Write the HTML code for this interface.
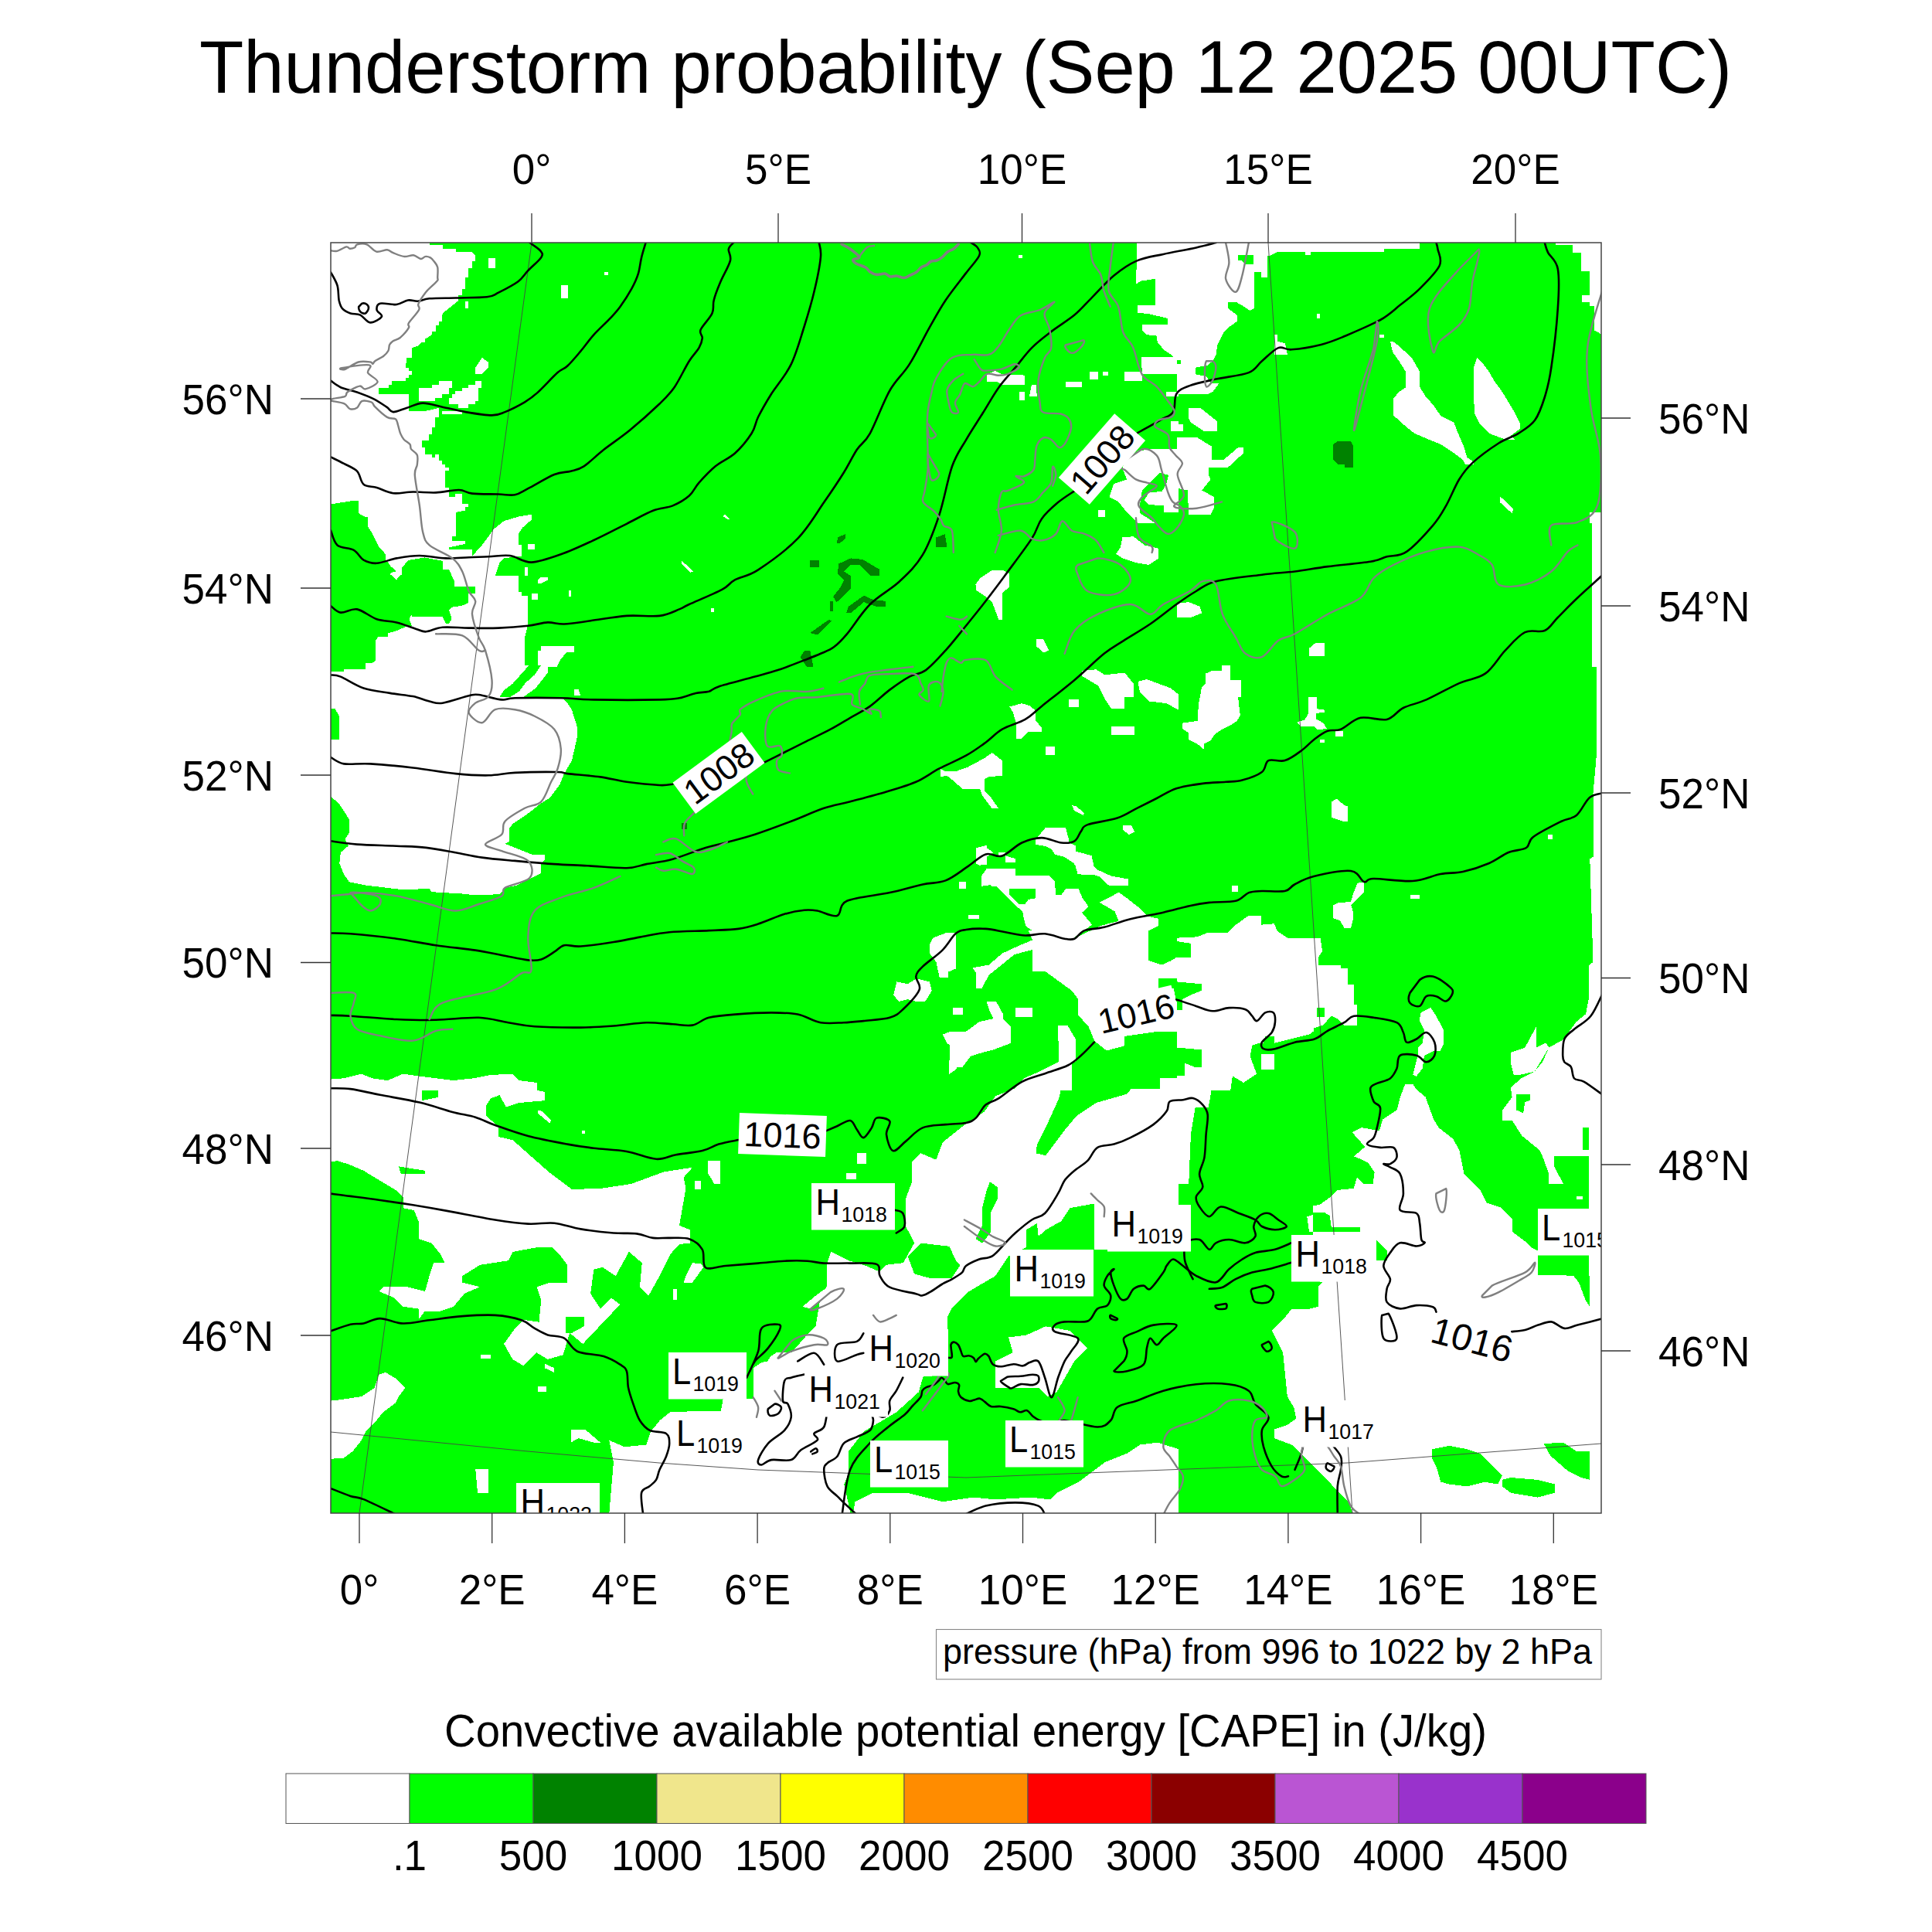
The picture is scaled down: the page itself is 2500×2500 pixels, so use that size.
<!DOCTYPE html><html><head><meta charset="utf-8"><style>html,body{margin:0;padding:0;background:#fff;width:2500px;height:2500px;overflow:hidden}svg{display:block}</style></head><body><svg width="2500" height="2500" viewBox="0 0 2500 2500" font-family="'Liberation Sans', sans-serif">
<rect x="0" y="0" width="2500" height="2500" fill="#fff"/>
<defs><clipPath id="mc"><rect x="428" y="314" width="1644" height="1644"/></clipPath></defs>
<g clip-path="url(#mc)"><g shape-rendering="crispEdges">
<rect x="428" y="314" width="1644" height="1644" fill="#00ff00"/>
<polygon points="426.6,312.6 555.6,312.6 555.6,316.8 572.7,316.8 572.7,321.9 589.7,321.9 589.7,325.9 611.0,325.9 614.6,330.5 614.6,338.1 611.0,338.1 611.0,346.6 606.1,346.6 606.1,359.4 601.6,359.4 601.6,373.6 597.6,373.6 597.6,382.1 593.1,382.1 593.1,389.2 584.0,396.3 575.5,403.3 572.1,407.0 572.1,416.1 567.6,416.1 567.6,421.2 563.6,421.2 563.6,428.9 559.0,428.9 559.0,433.1 550.0,438.8 550.0,443.1 544.9,443.1 541.5,447.3 532.9,450.1 532.9,462.9 525.9,462.9 525.9,470.0 524.7,470.0 524.7,476.2 528.7,476.2 528.7,480.2 532.9,480.2 532.9,485.0 528.7,485.0 528.7,489.0 524.7,489.0 524.7,493.3 507.4,493.3 507.4,497.8 502.9,497.8 502.9,502.1 489.8,502.1 489.8,509.7 528.7,509.7 528.7,532.1 550.0,532.1 567.6,527.9 567.6,540.3 563.0,540.3 563.0,552.8 558.8,552.8 558.8,561.6 554.8,561.6 554.8,569.8 546.0,569.8 546.0,578.6 550.0,578.6 550.0,588.0 558.8,588.0 558.8,592.3 563.0,592.3 563.0,588.0 567.6,588.0 567.6,595.7 571.8,595.7 571.8,601.0 575.8,601.0 575.8,605.0 580.6,605.0 580.6,609.3 575.8,609.3 575.8,631.1 581.2,631.1 581.2,643.0 588.8,643.0 588.8,638.8 597.6,638.8 597.6,651.5 605.8,651.5 605.8,655.8 601.9,655.8 601.9,660.6 589.7,662.9 589.7,694.1 585.4,694.1 585.4,699.8 601.6,699.8 601.6,704.0 581.2,708.3 581.2,711.1 611.0,711.1 611.0,719.6 623.7,705.4 632.2,694.1 637.9,685.6 652.1,674.2 670.5,668.6 687.5,665.7 687.5,672.8 676.2,682.7 670.5,691.2 670.5,705.4 674.8,705.4 674.8,719.6 652.1,722.4 646.4,728.1 640.7,745.1 670.5,745.1 670.5,766.4 674.8,766.4 674.8,770.7 683.3,770.7 683.3,807.5 679.0,824.6 679.0,863.4 426.6,863.4" fill="#ffffff"/>
<polygon points="427.1,652.6 456.1,648.0 464.2,648.0 464.2,664.3 472.4,668.9 476.0,668.9 476.0,681.6 481.4,689.7 490.5,707.8 498.7,716.9 498.7,725.9 502.3,727.8 505.9,733.2 510.4,736.8 512.2,739.5 507.7,740.4 504.1,743.2 507.7,745.0 513.1,750.4 515.9,745.9 520.4,743.2 520.4,734.1 528.5,725.0 549.4,721.4 572.9,725.9 572.9,736.8 581.1,736.8 588.3,753.1 588.3,758.6 614.6,758.6 614.6,767.6 605.5,767.6 605.5,780.3 597.4,783.9 584.7,785.7 581.1,789.3 584.7,801.1 581.1,806.6 576.6,806.6 572.9,798.4 533.1,798.4 533.1,794.8 529.4,801.1 533.1,810.2 524.9,811.1 512.2,816.5 502.3,819.2 502.3,823.8 489.6,823.8 486.0,829.2 486.0,854.6 481.4,858.2 473.3,858.2 472.4,866.3 451.6,866.3 451.6,861.8 447.0,861.8 442.5,870.9 427.1,870.9" fill="#00ff00"/>
<polygon points="541.7,502.1 558.8,502.1 558.8,498.0 567.6,498.0 567.6,493.3 584.7,493.3 584.7,502.1 581.1,502.1 581.1,509.9 571.8,509.9 571.8,515.0 563.0,515.0 563.0,519.2 541.7,519.2" fill="#ffffff"/>
<polygon points="614.7,493.3 623.0,493.3 623.0,502.1 618.9,502.1 618.9,519.2 614.7,519.2 614.7,523.3 605.9,523.3 605.9,528.0 593.0,528.0 593.0,523.3 581.1,523.3 581.1,515.0 584.7,515.0 584.7,509.9 588.8,509.9 588.8,506.2 597.6,506.2 597.6,502.1 605.9,502.1 605.9,498.0 614.7,498.0" fill="#ffffff"/>
<polygon points="571.8,532.1 597.6,532.1 597.6,535.7 571.8,535.7" fill="#ffffff"/>
<polygon points="631.7,333.9 640.7,333.9 640.7,346.6 631.7,346.6" fill="#ffffff"/>
<polygon points="782.0,351.7 786.8,351.7 786.8,356.0 782.0,356.0" fill="#ffffff"/>
<polygon points="725.8,369.3 734.9,369.3 734.9,385.8 725.8,385.8" fill="#ffffff"/>
<polygon points="601.6,390.0 606.1,390.0 606.1,398.5 601.6,398.5" fill="#ffffff"/>
<polygon points="623.7,462.9 631.7,468.6 631.7,475.7 623.7,484.2 615.2,484.2 615.2,475.7" fill="#ffffff"/>
<polygon points="938.0,665.7 944.2,672.0 941.4,672.0 935.7,668.0" fill="#ffffff"/>
<polygon points="881.8,725.3 897.4,739.5 893.2,740.9 881.8,729.5" fill="#ffffff"/>
<polygon points="735.8,763.6 739.2,763.6 739.2,772.1 735.8,772.1" fill="#ffffff"/>
<polygon points="920.1,787.1 923.8,787.1 923.8,791.9 920.1,791.9" fill="#ffffff"/>
<polygon points="700.3,746.6 708.8,746.6 708.8,750.8 700.3,755.1 696.0,755.1 696.0,750.8" fill="#ffffff"/>
<polygon points="679.0,733.8 683.3,733.8 683.3,745.1 679.0,745.1" fill="#ffffff"/>
<polygon points="687.5,767.8 696.0,767.8 696.0,776.3 687.5,776.3" fill="#ffffff"/>
<polygon points="683.3,704.0 691.8,704.0 691.8,711.1 683.3,711.1" fill="#ffffff"/>
<polygon points="696.0,841.6 700.3,841.6 700.3,835.9 742.8,835.9 742.8,844.4 732.9,844.4 725.8,852.9 720.2,863.4 696.0,863.4" fill="#ffffff"/>
<polygon points="1471.0,312.6 1525.4,312.6 1525.4,467.2 1514.9,458.7 1506.4,453.0 1497.9,443.1 1496.5,434.5 1483.7,433.1 1478.0,427.5 1478.0,420.4 1510.7,420.4 1510.7,411.9 1486.6,406.2 1472.4,404.8 1472.4,394.8 1495.1,394.8 1495.1,360.8 1476.6,363.6 1469.5,367.9 1471.0,339.5" fill="#ffffff"/>
<polygon points="1476.6,461.5 1525.4,461.5 1525.4,484.2 1478.0,484.2" fill="#ffffff"/>
<polygon points="1455.4,481.3 1478.0,481.3 1478.0,492.7 1455.4,492.7" fill="#ffffff"/>
<polygon points="1410.0,481.3 1421.3,481.3 1421.3,491.3 1410.0,491.3" fill="#ffffff"/>
<polygon points="1427.0,481.3 1434.1,481.3 1434.1,485.6 1427.0,485.6" fill="#ffffff"/>
<polygon points="1378.8,494.1 1400.0,494.1 1400.0,501.2 1378.8,501.2" fill="#ffffff"/>
<polygon points="1509.3,506.9 1525.4,506.9 1525.4,512.6 1509.3,512.6" fill="#ffffff"/>
<polygon points="1276.7,484.2 1288.0,479.9 1296.5,484.2 1326.3,485.6 1326.3,498.4 1297.9,498.4 1290.8,494.1 1276.7,494.1" fill="#ffffff"/>
<polygon points="1319.2,506.9 1326.3,506.9 1326.3,518.2 1319.2,518.2" fill="#ffffff"/>
<polygon points="1334.8,498.4 1340.5,498.4 1341.9,512.6 1332.0,512.6" fill="#ffffff"/>
<polygon points="1317.8,329.6 1322.6,329.6 1322.6,333.9 1317.8,333.9" fill="#ffffff"/>
<polygon points="1514.9,545.2 1525.4,545.2 1525.4,557.9 1514.9,557.9" fill="#ffffff"/>
<polygon points="1455.4,597.6 1472.4,583.5 1495.1,580.6 1525.4,580.6 1525.4,662.9 1506.4,662.9 1506.4,654.4 1486.6,653.0 1480.9,647.3 1486.6,637.4 1503.6,635.9 1509.3,626.0 1512.1,614.7 1500.7,611.8 1486.6,626.0 1478.0,634.5 1475.2,651.5 1475.2,664.3 1486.6,671.4 1495.1,677.1 1472.4,677.1 1458.2,662.9 1446.8,648.7 1435.5,643.0 1441.2,626.0 1458.2,620.3 1452.5,606.2" fill="#ffffff"/>
<polygon points="1452.5,695.5 1466.7,694.1 1480.9,705.4 1499.3,709.7 1499.3,722.4 1486.6,731.0 1469.5,728.1 1452.5,722.4 1444.0,716.8 1449.7,708.3" fill="#ffffff"/>
<polygon points="1262.5,756.5 1268.2,748.0 1283.8,738.0 1297.9,738.0 1306.4,742.3 1306.4,759.3 1296.5,767.8 1296.5,801.9 1292.3,801.9 1283.8,779.2 1273.8,770.7 1262.5,763.6" fill="#ffffff"/>
<polygon points="1340.5,827.4 1350.4,827.4 1357.5,841.6 1350.4,844.4 1340.5,835.9" fill="#ffffff"/>
<polygon points="1421.3,660.0 1429.8,660.0 1429.8,668.6 1421.3,668.6" fill="#ffffff"/>
<polygon points="1085.2,729.5 1100.8,722.4 1116.4,723.9 1137.7,736.6 1137.7,745.1 1126.3,745.1 1112.1,731.0 1100.8,731.0 1092.3,739.5 1100.8,745.1 1100.8,762.2 1089.5,773.5 1082.4,779.2 1078.1,772.1 1088.0,759.3 1092.3,750.8 1083.8,742.3" fill="#008200"/>
<polygon points="1098.0,784.8 1117.8,770.7 1130.6,776.3 1146.2,777.8 1146.2,784.8 1133.4,784.8 1117.8,779.2 1100.8,793.4 1095.1,793.4" fill="#008200"/>
<polygon points="1048.3,818.9 1072.4,801.9 1076.7,803.3 1058.3,821.7" fill="#008200"/>
<polygon points="1041.2,841.6 1048.3,841.6 1052.6,863.4 1044.1,863.4 1035.6,850.1" fill="#008200"/>
<polygon points="1211.4,695.5 1222.8,691.2 1225.6,708.3 1211.4,708.3" fill="#008200"/>
<polygon points="1048.3,725.3 1059.7,725.3 1059.7,733.8 1048.3,733.8" fill="#008200"/>
<polygon points="1073.9,777.8 1078.1,777.8 1078.1,790.5 1073.9,790.5" fill="#008200"/>
<polygon points="1083.8,695.5 1093.7,691.2 1093.7,696.9 1086.6,703.2 1083.2,703.2" fill="#008200"/>
<polygon points="1522.6,312.6 1837.4,312.6 1837.4,321.9 1790.6,321.9 1790.6,325.9 1695.6,325.9 1695.6,329.6 1688.5,329.6 1688.5,325.9 1653.1,325.9 1643.1,331.0 1640.3,331.0 1640.3,359.4 1631.8,359.4 1631.8,352.3 1623.3,352.3 1623.3,399.1 1617.6,401.9 1609.1,396.3 1599.2,390.6 1589.2,390.6 1589.2,399.1 1600.6,407.6 1600.6,416.1 1592.1,421.8 1583.6,430.3 1575.1,447.3 1573.6,458.7 1569.4,467.2 1562.3,472.8 1546.7,475.7 1546.7,484.2 1560.9,487.0 1566.5,495.5 1577.9,495.5 1569.4,506.9 1563.7,509.7 1522.6,509.7" fill="#ffffff"/>
<polygon points="1602.0,329.6 1621.9,329.6 1621.9,342.4 1611.9,342.4 1606.3,336.7 1602.0,336.7" fill="#00ff00"/>
<polygon points="1522.6,465.7 1528.3,465.7 1528.3,471.4 1522.6,471.4" fill="#00ff00"/>
<polygon points="1648.8,433.1 1653.1,433.1 1653.1,441.6 1663.0,444.5 1665.8,458.7 1648.8,458.7" fill="#ffffff"/>
<polygon points="1538.2,528.2 1553.8,528.2 1575.1,545.2 1575.1,557.9 1558.0,557.9 1541.0,546.6 1538.2,540.9" fill="#ffffff"/>
<polygon points="1522.6,549.4 1531.1,549.4 1531.1,557.9 1522.6,557.9" fill="#ffffff"/>
<polygon points="1522.6,566.4 1549.5,566.4 1568.0,577.8 1568.0,594.8 1583.6,594.8 1602.0,579.2 1609.1,579.2 1609.1,586.3 1589.2,604.7 1563.7,604.7 1563.7,614.7 1566.5,620.3 1555.2,634.5 1570.8,643.0 1570.8,657.2 1566.5,665.7 1538.2,665.7 1536.8,634.5 1522.6,631.7" fill="#ffffff"/>
<polygon points="1799.1,441.6 1804.8,443.1 1819.0,455.8 1827.5,464.3 1837.4,481.3 1837.4,501.2 1844.5,512.6 1854.4,523.9 1864.4,538.1 1881.4,546.6 1885.6,557.9 1894.2,577.8 1898.4,592.0 1906.9,597.6 1906.9,600.5 1895.6,600.5 1892.7,594.8 1881.4,586.3 1864.4,575.0 1850.2,569.3 1830.3,560.8 1816.2,549.4 1810.5,543.8 1803.4,538.1 1803.4,515.4 1810.5,506.9 1819.0,501.2 1819.0,481.3 1810.5,467.2 1802.0,455.8" fill="#ffffff"/>
<polygon points="1911.2,462.9 1919.7,471.4 1926.8,481.3 1935.3,495.5 1943.8,506.9 1952.3,521.1 1960.8,535.2 1966.5,546.6 1966.5,555.1 1955.1,563.6 1960.8,569.3 1949.5,569.3 1926.8,560.8 1915.4,549.4 1908.3,535.2 1906.9,512.6 1906.9,498.4 1906.9,475.7" fill="#ffffff"/>
<polygon points="1941.0,643.0 1945.2,645.9 1958.0,658.6 1956.6,664.3 1941.0,650.1" fill="#ffffff"/>
<polygon points="1694.2,838.7 1702.7,831.7 1714.0,831.7 1714.0,848.7 1694.2,848.7" fill="#ffffff"/>
<polygon points="1522.6,780.6 1538.2,779.2 1552.4,784.8 1555.2,793.4 1541.0,799.0 1522.6,799.0" fill="#ffffff"/>
<polygon points="2060.1,677.1 2073.4,677.1 2073.4,863.4 2060.1,863.4" fill="#ffffff"/>
<polygon points="2013.3,312.6 2073.4,312.6 2073.4,433.1 2062.9,427.5 2062.9,396.3 2057.3,396.3 2057.3,390.6 2047.3,390.6 2047.3,382.1 2057.3,382.1 2057.3,350.9 2045.9,350.9 2045.9,326.8 2034.6,326.8 2034.6,316.8 2013.3,316.8" fill="#ffffff"/>
<polygon points="2057.3,662.9 2073.4,662.9 2073.4,677.1 2057.3,677.1" fill="#ffffff"/>
<polygon points="1704.1,406.2 1708.4,406.2 1708.4,411.9 1704.1,411.9" fill="#ffffff"/>
<polygon points="1785.0,433.1 1790.6,433.1 1790.6,437.4 1785.0,437.4" fill="#ffffff"/>
<polygon points="1731.1,570.7 1748.1,570.7 1750.9,576.4 1750.9,604.7 1739.6,604.7 1739.6,600.5 1731.1,600.5 1725.4,594.8 1725.4,575.0" fill="#008200"/>
<polygon points="426.6,860.6 426.6,1029.3 439.3,1040.7 452.1,1060.6 452.1,1077.6 446.4,1086.1 450.7,1094.6 440.8,1103.1 439.3,1117.3 445.0,1131.5 452.1,1141.4 473.4,1145.6 521.6,1151.3 555.6,1149.9 558.5,1154.2 606.7,1157.0 606.7,1158.4 623.7,1158.4 646.4,1157.0 654.9,1148.5 669.1,1145.6 677.6,1141.4 700.3,1130.0 700.3,1117.3 704.6,1113.0 704.6,1105.9 689.0,1105.9 674.8,1100.3 653.5,1091.8 659.2,1088.9 659.2,1071.9 663.4,1066.2 680.4,1054.9 700.3,1039.3 711.6,1032.2 724.4,1015.2 730.1,1001.0 740.0,984.0 747.1,952.8 747.1,941.4 740.0,918.7 734.3,910.2 725.8,901.7 677.6,901.7 693.2,890.4 708.8,870.5 708.8,860.6" fill="#ffffff"/>
<polygon points="684.7,860.6 700.3,860.6 691.8,873.3 680.4,883.3 671.9,894.6 660.6,901.7 646.4,901.7 652.1,893.2 663.4,884.7 674.8,871.9" fill="#00ff00"/>
<polygon points="426.6,860.6 473.4,860.6 473.4,866.3 445.0,866.3 445.0,869.1 426.6,869.1" fill="#00ff00"/>
<polygon points="426.6,917.3 433.7,917.3 439.3,927.2 439.3,957.0 426.6,957.0" fill="#00ff00"/>
<polygon points="589.7,1410.9 605.3,1410.9 605.3,1415.1 589.7,1415.1" fill="#ffffff"/>
<polygon points="598.2,1426.5 612.4,1426.5 620.9,1432.1 620.9,1436.4 609.5,1432.1 598.2,1429.3" fill="#ffffff"/>
<polygon points="696.0,1436.4 701.7,1437.8 713.1,1449.1 711.6,1453.4 706.0,1449.1 696.0,1440.6" fill="#ffffff"/>
<polygon points="426.6,1396.7 445.0,1395.3 467.7,1389.6 481.9,1395.3 501.7,1398.1 521.6,1389.6 541.5,1392.4 564.1,1395.3 586.8,1398.1 612.4,1395.3 635.1,1391.0 663.4,1389.6 671.9,1398.1 694.6,1400.9 694.6,1411.4 426.6,1411.4" fill="#ffffff"/>
<polygon points="742.8,891.8 748.5,891.8 751.4,900.3 742.8,900.3" fill="#ffffff"/>
<polygon points="881.8,1064.8 888.9,1064.8 888.9,1073.3 881.8,1073.3" fill="#008200"/>
<polygon points="1400.0,867.7 1418.5,866.3 1429.8,873.3 1455.4,870.5 1466.7,884.7 1466.7,901.7 1455.4,901.7 1455.4,917.3 1438.3,917.3 1429.8,904.5 1421.3,887.5 1407.1,879.0 1400.0,874.8" fill="#ffffff"/>
<polygon points="1472.4,881.9 1483.7,879.0 1514.9,890.4 1525.4,898.9 1525.4,918.7 1509.3,910.2 1486.6,907.4 1475.2,896.0" fill="#ffffff"/>
<polygon points="1306.4,914.5 1322.0,910.2 1332.0,913.1 1339.1,918.7 1340.5,932.9 1347.6,941.4 1347.6,947.1 1330.6,947.1 1322.0,955.6 1315.0,955.6 1315.0,935.7 1310.7,921.6" fill="#ffffff"/>
<polygon points="1438.3,940.0 1468.1,940.0 1468.1,951.3 1438.3,951.3" fill="#ffffff"/>
<polygon points="1353.2,965.5 1364.6,965.5 1364.6,976.9 1353.2,976.9" fill="#ffffff"/>
<polygon points="1383.0,904.5 1395.8,904.5 1395.8,914.5 1383.0,914.5" fill="#ffffff"/>
<polygon points="1273.8,981.1 1283.8,974.0 1296.5,984.0 1296.5,1003.8 1279.5,1005.2 1273.8,1008.1 1273.8,1023.7 1282.3,1032.2 1292.3,1046.4 1283.8,1046.4 1271.0,1029.3 1268.2,1020.8 1245.5,1020.8 1232.7,1009.5 1225.6,1003.8 1217.1,1005.2 1217.1,995.3 1222.8,998.1 1237.0,998.1 1252.6,992.5" fill="#ffffff"/>
<polygon points="1387.3,1042.1 1393.0,1043.5 1402.9,1052.0 1401.5,1054.9 1390.1,1049.2" fill="#ffffff"/>
<polygon points="1452.5,1067.6 1463.9,1067.6 1468.1,1076.2 1461.0,1080.4 1452.5,1073.3" fill="#ffffff"/>
<polygon points="1340.5,1086.1 1353.2,1070.5 1378.8,1070.5 1383.0,1086.1 1384.4,1105.9 1407.1,1108.8 1417.1,1123.0 1429.8,1134.3 1459.6,1137.1 1459.6,1145.6 1435.5,1145.6 1421.3,1131.5 1398.6,1131.5 1390.1,1117.3 1373.1,1105.9 1361.8,1097.4 1344.7,1093.2" fill="#ffffff"/>
<polygon points="1262.5,1105.9 1275.2,1096.0 1285.2,1103.1 1276.7,1108.8 1268.2,1120.1 1262.5,1117.3" fill="#ffffff"/>
<polygon points="1207.2,1213.7 1225.6,1206.6 1237.0,1206.6 1237.0,1253.4 1227.0,1257.7 1227.0,1264.8 1215.7,1264.8 1211.4,1244.9 1202.9,1233.6 1202.9,1222.2" fill="#ffffff"/>
<polygon points="1160.4,1270.4 1174.6,1273.3 1185.9,1266.2 1202.9,1270.4 1205.8,1281.8 1197.2,1296.0 1185.9,1296.0 1174.6,1293.1 1163.2,1296.0 1156.1,1287.5" fill="#ffffff"/>
<polygon points="1219.9,1338.5 1231.3,1334.3 1237.0,1349.9 1249.7,1335.7 1263.9,1327.2 1279.5,1332.8 1296.5,1327.2 1307.9,1332.8 1307.9,1349.9 1285.2,1358.4 1273.8,1361.2 1255.4,1366.9 1245.5,1369.7 1237.0,1383.9 1228.4,1389.6 1228.4,1372.6 1237.0,1358.4 1225.6,1349.9" fill="#ffffff"/>
<polygon points="1310.7,1411.4 1324.9,1395.3 1344.7,1386.7 1373.1,1372.6 1387.3,1364.0 1387.3,1411.4" fill="#ffffff"/>
<polygon points="1500.7,1395.3 1525.4,1395.3 1525.4,1411.4 1500.7,1411.4" fill="#ffffff"/>
<polygon points="1368.8,1327.2 1381.6,1327.2 1391.5,1344.2 1391.5,1369.7 1370.3,1369.7" fill="#ffffff"/>
<polygon points="1254.0,1183.9 1266.7,1183.9 1266.7,1188.2 1254.0,1188.2" fill="#ffffff"/>
<polygon points="1241.2,1141.4 1249.7,1141.4 1249.7,1149.9 1241.2,1149.9" fill="#ffffff"/>
<polygon points="1270.4,1132.8 1276.6,1124.3 1313.9,1124.3 1313.9,1132.8 1357.3,1132.8 1365.1,1140.6 1365.9,1157.6 1373.6,1157.6 1379.1,1149.9 1395.4,1149.9 1400.8,1162.3 1408.6,1173.2 1400.0,1180.9 1413.2,1196.5 1385.3,1216.6 1335.6,1215.1 1326.3,1194.9 1323.2,1180.9 1310.7,1171.6 1298.3,1156.1 1281.2,1145.2 1270.4,1146.8" fill="#ffffff"/>
<polygon points="1279.7,1146.8 1289.0,1146.8 1313.9,1171.6 1323.2,1179.4 1326.3,1198.0 1335.6,1204.2 1317.0,1204.2 1304.5,1188.7 1292.1,1170.1 1279.7,1157.6" fill="#00ff00"/>
<polygon points="1306.1,1149.9 1340.2,1149.9 1340.2,1162.3 1330.9,1163.9 1326.3,1170.1 1318.5,1170.1 1306.1,1157.6" fill="#00ff00"/>
<polygon points="1335.6,1215.1 1385.3,1216.6 1424.1,1198.0 1447.4,1191.8 1486.2,1204.2 1486.2,1243.0 1503.3,1248.5 1515.7,1243.0 1530.8,1233.7 1530.8,1266.3 1512.6,1266.3 1498.6,1270.2 1498.6,1278.8 1518.8,1278.8 1521.9,1295.8 1530.8,1295.8 1530.8,1334.7 1498.6,1334.7 1455.2,1340.9 1455.2,1353.3 1431.9,1359.5 1416.3,1347.1 1408.6,1328.4 1394.6,1312.9 1394.6,1292.0 1386.8,1281.9 1352.7,1257.0 1335.6,1257.0" fill="#ffffff"/>
<polygon points="1422.5,1167.7 1439.6,1159.2 1447.4,1154.5 1458.3,1162.3 1472.2,1173.2 1484.7,1185.6 1498.6,1188.7 1498.6,1198.0 1486.2,1204.2 1447.4,1191.8 1442.7,1179.4" fill="#ffffff"/>
<polygon points="1340.2,1086.2 1366.6,1081.6 1391.5,1094.0 1392.3,1101.7 1412.5,1107.2 1416.3,1124.3 1422.5,1126.6 1438.1,1133.6 1459.8,1137.5 1459.8,1145.2 1433.4,1145.2 1422.5,1134.3 1413.2,1131.2 1394.6,1131.2 1391.5,1120.4 1385.3,1111.1 1365.1,1105.6 1360.4,1098.6 1351.1,1094.0 1340.2,1093.2" fill="#ffffff"/>
<polygon points="1258.7,1252.4 1279.7,1248.5 1296.8,1233.7 1317.0,1224.4 1335.6,1216.6 1335.6,1229.1 1326.3,1231.4 1312.3,1235.3 1295.2,1249.3 1279.7,1261.7 1270.4,1278.8 1262.6,1278.8 1262.6,1258.6" fill="#ffffff"/>
<polygon points="1229.2,1334.7 1250.2,1334.7 1267.3,1322.2 1295.2,1316.0 1307.6,1328.4 1307.6,1344.0 1284.3,1358.0 1261.1,1359.5 1245.5,1380.8 1229.2,1380.8" fill="#ffffff"/>
<polygon points="1369.8,1334.7 1385.3,1334.7 1391.5,1353.3 1391.5,1373.5 1377.5,1380.8 1369.8,1380.8" fill="#ffffff"/>
<polygon points="1229.2,1215.1 1237.0,1208.9 1237.0,1250.8 1229.2,1252.4" fill="#ffffff"/>
<polygon points="1233.1,1303.6 1245.5,1303.6 1245.5,1312.9 1233.1,1312.9" fill="#ffffff"/>
<polygon points="1313.9,1303.6 1335.6,1303.6 1335.6,1316.0 1313.9,1316.0" fill="#ffffff"/>
<polygon points="1276.6,1295.8 1289.0,1295.8 1298.3,1312.9 1298.3,1325.3 1289.0,1325.3 1281.2,1309.8" fill="#ffffff"/>
<polygon points="1263.4,1097.1 1276.6,1094.0 1276.6,1118.8 1267.3,1118.8 1263.4,1111.1" fill="#ffffff"/>
<polygon points="1292.1,1103.3 1300.7,1103.3 1300.7,1107.2 1292.1,1107.2" fill="#ffffff"/>
<polygon points="1300.7,1107.2 1313.9,1111.1 1313.9,1115.7 1300.7,1115.7" fill="#ffffff"/>
<polygon points="1253.3,1184.0 1266.5,1184.0 1266.5,1188.7 1253.3,1188.7" fill="#ffffff"/>
<polygon points="1240.9,1140.6 1250.2,1140.6 1250.2,1149.9 1240.9,1149.9" fill="#ffffff"/>
<polygon points="1486.2,1204.2 1498.6,1198.0 1498.6,1188.7 1530.8,1176.3 1530.8,1233.7 1515.7,1243.0 1503.3,1248.5 1486.2,1243.0" fill="#00ff00"/>
<polygon points="1498.6,1266.3 1518.8,1266.3 1518.8,1278.8 1498.6,1278.8" fill="#00ff00"/>
<polygon points="1559.5,871.9 1569.4,867.7 1580.7,867.7 1580.7,860.6 1592.1,860.6 1592.1,880.4 1606.3,880.4 1606.3,901.7 1602.0,901.7 1604.8,925.8 1600.6,932.9 1592.1,938.6 1580.7,944.3 1572.2,949.9 1566.5,958.4 1558.0,962.7 1558.0,969.8 1549.5,962.7 1538.2,957.0 1538.2,948.5 1529.7,942.8 1529.7,935.7 1549.5,932.9 1550.9,911.6 1555.2,888.9 1559.5,884.7" fill="#ffffff"/>
<polygon points="1692.8,901.7 1704.1,901.7 1704.1,917.3 1714.0,918.7 1714.0,921.6 1702.7,923.0 1702.7,930.1 1712.6,935.7 1716.9,942.8 1705.5,944.3 1699.9,940.0 1682.8,940.0 1678.6,934.3 1688.5,931.5 1692.8,923.0" fill="#ffffff"/>
<polygon points="1728.2,945.7 1738.2,945.7 1738.2,952.8 1728.2,952.8" fill="#ffffff"/>
<polygon points="1708.4,957.0 1714.0,957.0 1714.0,961.3 1708.4,961.3" fill="#ffffff"/>
<polygon points="1722.6,1037.9 1729.6,1033.6 1739.6,1042.1 1743.8,1043.5 1743.8,1063.4 1739.6,1063.4 1722.6,1057.7" fill="#ffffff"/>
<polygon points="2003.4,1080.4 2009.0,1080.4 2009.0,1086.1 2003.4,1086.1" fill="#ffffff"/>
<polygon points="1593.5,1145.6 1602.0,1145.6 1602.0,1154.2 1593.5,1154.2" fill="#ffffff"/>
<polygon points="1824.7,1158.4 1837.4,1158.4 1837.4,1162.7 1824.7,1162.7" fill="#ffffff"/>
<polygon points="1756.6,1142.8 1765.1,1141.4 1765.1,1154.2 1756.6,1162.7 1748.1,1171.2 1750.9,1179.7 1750.9,1189.6 1748.1,1201.0 1739.6,1201.0 1733.9,1191.0 1725.4,1188.2 1725.4,1171.2 1731.1,1168.3 1748.1,1166.9 1750.9,1157.0" fill="#ffffff"/>
<polygon points="1522.6,1213.7 1549.5,1212.3 1563.7,1206.6 1589.2,1206.6 1599.2,1196.7 1614.8,1185.4 1631.8,1185.4 1631.8,1196.7 1648.8,1195.3 1653.1,1205.2 1665.8,1213.7 1708.4,1213.7 1711.2,1230.7 1705.5,1239.2 1707.0,1253.4 1731.1,1253.4 1742.4,1261.9 1750.9,1274.7 1750.9,1298.8 1756.6,1315.8 1739.6,1327.2 1722.6,1318.7 1705.5,1330.0 1694.2,1338.5 1648.8,1349.9 1648.8,1341.4 1637.5,1341.4 1634.6,1349.9 1628.9,1349.9 1620.4,1352.7 1617.6,1366.9 1626.1,1389.6 1609.1,1400.9 1594.9,1392.4 1592.1,1411.4 1522.6,1411.4" fill="#ffffff"/>
<polygon points="1522.6,1218.0 1541.0,1220.8 1541.0,1239.2 1522.6,1239.2" fill="#00ff00"/>
<polygon points="1522.6,1270.4 1555.2,1273.3 1555.2,1281.8 1541.0,1287.5 1529.7,1293.1 1529.7,1307.3 1522.6,1307.3" fill="#00ff00"/>
<polygon points="1522.6,1355.5 1555.2,1358.4 1555.2,1381.1 1546.7,1381.1 1532.5,1375.4 1532.5,1392.4 1522.6,1392.4" fill="#00ff00"/>
<polygon points="1705.5,1304.5 1714.0,1304.5 1714.0,1315.8 1705.5,1315.8" fill="#00ff00"/>
<polygon points="1631.8,1364.0 1648.8,1364.0 1648.8,1383.9 1631.8,1383.9" fill="#ffffff"/>
<polygon points="1837.4,1310.2 1853.0,1304.5 1858.7,1315.8 1867.2,1334.3 1868.6,1351.3 1855.9,1355.5 1847.4,1372.6 1838.8,1378.2 1833.2,1389.6 1830.3,1411.4 1816.2,1411.4 1824.7,1392.4 1830.3,1366.9 1836.0,1349.9 1836.0,1330.0" fill="#ffffff"/>
<polygon points="1949.5,1411.4 1958.0,1395.3 1955.1,1381.1 1963.6,1361.2 1975.0,1355.5 1980.7,1344.2 1983.5,1327.2 1992.0,1349.9 2006.2,1349.9 2020.4,1344.2 2031.7,1321.5 2031.7,1310.2 2043.1,1315.8 2051.6,1321.5 2051.6,1411.4" fill="#ffffff"/>
<polygon points="2065.8,860.6 2073.4,860.6 2073.4,1411.4 2051.6,1411.4 2051.6,1321.5 2057.3,1304.5 2057.3,1247.8 2061.5,1244.9 2057.3,1111.6 2061.5,1108.8 2061.5,1026.5 2065.8,978.3" fill="#ffffff"/>
<polygon points="426.6,1408.6 545.7,1408.6 545.7,1424.2 567.0,1419.9 567.0,1408.6 683.3,1408.6 704.6,1412.8 704.6,1424.2 671.9,1427.0 654.9,1432.7 646.4,1417.1 635.1,1421.3 629.4,1429.9 629.4,1444.0 645.0,1458.2 645.0,1471.0 663.4,1475.2 711.6,1517.8 740.0,1539.1 779.7,1537.6 816.6,1532.0 859.1,1516.4 896.0,1510.7 884.7,1523.5 887.5,1537.6 879.0,1585.9 893.2,1591.5 893.2,1608.6 879.0,1610.0 867.6,1622.7 853.5,1651.1 839.3,1676.6 827.9,1665.3 830.8,1634.1 813.8,1619.9 796.7,1651.1 779.7,1639.8 768.4,1642.6 764.1,1673.8 776.9,1693.6 791.1,1679.5 802.4,1688.0 754.2,1739.0 737.2,1724.8 728.7,1753.2 708.8,1758.9 694.6,1750.4 677.6,1767.4 663.4,1758.9 652.1,1739.0 666.3,1719.2 677.6,1707.8 697.5,1710.7 700.3,1682.3 694.6,1665.3 711.6,1659.6 734.3,1659.6 734.3,1636.9 725.8,1625.6 714.5,1614.2 694.6,1614.2 663.4,1619.9 657.8,1631.2 620.9,1636.9 598.2,1651.1 598.2,1659.6 620.9,1665.3 601.0,1673.8 586.8,1690.8 569.8,1696.5 550.0,1696.5 541.5,1707.8 541.5,1693.6 521.6,1690.8 510.3,1679.5 490.4,1671.0 496.1,1665.3 527.3,1665.3 550.0,1671.0 555.6,1651.1 561.3,1634.1 575.5,1634.1 569.8,1622.7 558.5,1608.6 541.5,1602.9 541.5,1580.2 535.8,1566.0 521.6,1563.2 521.6,1549.0 513.1,1540.5 484.7,1523.5 470.5,1514.9 450.7,1506.4 436.5,1502.2 426.6,1503.6" fill="#ffffff"/>
<polygon points="731.5,1703.6 755.6,1703.6 755.6,1716.3 740.0,1724.8 731.5,1724.8" fill="#00ff00"/>
<polygon points="515.9,1509.3 550.0,1514.9 550.0,1519.2 518.8,1519.2" fill="#00ff00"/>
<polygon points="426.6,1812.8 439.3,1811.4 467.7,1807.1 484.7,1795.8 490.4,1778.7 498.9,1775.9 513.1,1784.4 524.4,1795.8 515.9,1807.1 511.7,1815.6 496.1,1827.0 484.7,1841.1 473.4,1852.5 467.7,1863.8 456.4,1878.0 445.0,1886.5 426.6,1887.9" fill="#ffffff"/>
<polygon points="788.2,1959.4 793.9,1892.2 788.2,1863.8 808.1,1872.3 836.4,1869.5 842.1,1852.5 853.5,1838.3 867.6,1827.0 932.9,1825.5 935.7,1809.9 977.4,1809.9 977.4,1959.4" fill="#ffffff"/>
<polygon points="966.9,1758.9 977.4,1758.9 977.4,1798.6 966.9,1798.6" fill="#00ff00"/>
<polygon points="870.5,1668.1 876.2,1668.1 876.2,1682.3 870.5,1682.3" fill="#ffffff"/>
<polygon points="896.0,1634.1 907.4,1635.5 910.2,1639.8 896.0,1659.6 884.7,1659.6 887.5,1651.1" fill="#ffffff"/>
<polygon points="915.9,1502.2 931.5,1502.2 931.5,1532.0 924.4,1532.0 915.9,1517.8" fill="#ffffff"/>
<polygon points="898.8,1527.7 907.4,1527.7 907.4,1539.1 898.8,1539.1" fill="#ffffff"/>
<polygon points="738.6,1849.6 757.0,1849.6 776.9,1866.7 768.4,1866.7 748.5,1861.0 738.6,1866.7" fill="#ffffff"/>
<polygon points="615.2,1900.7 632.2,1900.7 632.2,1931.9 618.0,1931.9" fill="#ffffff"/>
<polygon points="622.3,1753.2 635.1,1753.2 635.1,1757.5 622.3,1757.5" fill="#ffffff"/>
<polygon points="704.6,1764.6 717.3,1770.2 717.3,1775.9 704.6,1770.2" fill="#ffffff"/>
<polygon points="696.0,1794.3 707.4,1794.3 707.4,1801.4 696.0,1801.4" fill="#ffffff"/>
<polygon points="752.8,1462.5 757.0,1462.5 757.0,1466.7 752.8,1466.7" fill="#ffffff"/>
<polygon points="1312.1,1408.6 1373.1,1408.6 1370.3,1421.3 1356.1,1452.5 1341.9,1480.9 1340.5,1492.3 1353.2,1495.1 1378.8,1461.1 1393.0,1444.0 1418.5,1427.0 1458.2,1415.7 1463.9,1408.6 1525.4,1408.6 1525.4,1617.1 1415.6,1617.1 1415.6,1557.5 1384.4,1563.2 1373.1,1580.2 1353.2,1591.5 1327.7,1614.2 1305.0,1625.6 1288.0,1651.1 1254.0,1671.0 1231.3,1693.6 1225.6,1705.0 1225.6,1778.7 1194.4,1781.6 1188.7,1801.4 1160.4,1827.0 1117.8,1852.5 1098.0,1878.0 1098.0,1906.4 1092.3,1920.6 1100.8,1959.4 974.6,1959.4 974.6,1770.2 1004.4,1750.4 1024.2,1750.4 1044.1,1727.7 1055.4,1716.3 1061.1,1682.3 1069.6,1665.3 1069.6,1636.9 1075.3,1619.9 1098.0,1631.2 1117.8,1636.9 1137.7,1645.4 1146.2,1636.9 1168.9,1634.1 1183.1,1608.6 1171.7,1585.9 1171.7,1551.8 1180.2,1529.1 1180.2,1503.6 1191.6,1492.3 1211.4,1500.8 1219.9,1478.1 1248.3,1455.4 1273.8,1438.4 1288.0,1418.5" fill="#ffffff"/>
<polygon points="1174.6,1625.6 1191.6,1608.6 1228.4,1612.8 1237.0,1631.2 1242.6,1636.9 1231.3,1653.9 1202.9,1653.9 1183.1,1648.3" fill="#00ff00"/>
<polygon points="1280.9,1529.1 1290.8,1536.2 1290.8,1551.8 1282.3,1568.8 1282.3,1594.4 1271.0,1608.6 1262.5,1602.9 1271.0,1585.9 1271.0,1563.2 1276.7,1540.5" fill="#00ff00"/>
<polygon points="1327.7,1591.5 1341.9,1583.0 1344.7,1608.6 1327.7,1614.2" fill="#00ff00"/>
<polygon points="974.6,1716.3 993.0,1713.5 1010.0,1716.3 1010.0,1736.2 993.0,1761.7 974.6,1764.6" fill="#00ff00"/>
<polygon points="1086.6,1653.9 1100.8,1653.9 1089.5,1665.3 1061.1,1682.3 1049.7,1693.6 1038.4,1690.8 1055.4,1676.6" fill="#ffffff"/>
<polygon points="1305.0,1730.5 1327.7,1727.7 1353.2,1716.3 1384.4,1722.0 1407.1,1744.7 1390.1,1761.7 1367.4,1801.4 1356.1,1807.1 1344.7,1795.8 1288.0,1795.8 1288.0,1761.7 1310.7,1750.4" fill="#ffffff"/>
<polygon points="1103.6,1959.4 1106.5,1943.3 1129.2,1931.9 1174.6,1931.9 1219.9,1943.3 1259.6,1937.6 1288.0,1940.4 1333.4,1937.6 1358.9,1940.4 1367.4,1931.9 1395.8,1917.7 1429.8,1892.2 1458.2,1880.8 1475.2,1869.5 1497.9,1866.7 1525.4,1875.2 1525.4,1959.4" fill="#ffffff"/>
<polygon points="1109.3,1492.3 1120.7,1492.3 1120.7,1506.4 1109.3,1506.4" fill="#ffffff"/>
<polygon points="1095.1,1517.8 1107.9,1517.8 1107.9,1526.3 1095.1,1526.3" fill="#ffffff"/>
<polygon points="1816.2,1408.6 2073.4,1408.6 2073.4,1959.4 1750.9,1959.4 1745.2,1943.3 1722.6,1920.6 1694.2,1892.2 1671.5,1869.5 1648.8,1861.0 1648.8,1849.6 1665.8,1844.0 1677.2,1835.5 1674.3,1821.3 1665.8,1807.1 1663.0,1778.7 1660.1,1750.4 1646.0,1722.0 1660.1,1707.8 1671.5,1693.6 1694.2,1693.6 1705.5,1690.8 1705.5,1665.3 1711.2,1659.6 1694.2,1653.9 1671.5,1653.9 1671.5,1636.9 1694.2,1636.9 1699.9,1625.6 1694.2,1608.6 1756.6,1605.7 1759.4,1594.4 1694.2,1594.4 1691.3,1574.5 1722.6,1563.2 1722.6,1543.3 1753.8,1546.1 1756.6,1534.8 1776.4,1532.0 1779.3,1517.8 1773.6,1503.6 1759.4,1483.7 1750.9,1463.9 1773.6,1461.1 1790.6,1449.7 1807.6,1427.0" fill="#ffffff"/>
<polygon points="1833.2,1408.6 1958.0,1408.6 1952.3,1421.3 1946.6,1441.2 1960.8,1452.5 1977.8,1469.6 1994.8,1492.3 2009.0,1497.9 2057.3,1495.1 2060.1,1564.6 1989.2,1564.6 1989.2,1625.6 1972.2,1608.6 1955.1,1591.5 1941.0,1571.7 1926.8,1557.5 1912.6,1534.8 1898.4,1514.9 1884.2,1495.1 1870.0,1475.2 1855.9,1458.2 1844.5,1438.4" fill="#00ff00"/>
<polygon points="2006.2,1497.9 2023.2,1497.9 2028.9,1534.8 2017.5,1534.8" fill="#ffffff"/>
<polygon points="1994.8,1625.6 2057.3,1625.6 2057.3,1690.8 2051.6,1682.3 2043.1,1659.6 2031.7,1645.4 2017.5,1634.1" fill="#00ff00"/>
<polygon points="1962.2,1415.7 1979.2,1415.7 1979.2,1427.0 1972.2,1441.2 1963.6,1441.2" fill="#00ff00"/>
<polygon points="2048.7,1459.6 2055.8,1459.6 2055.8,1489.4 2048.7,1489.4" fill="#00ff00"/>
<polygon points="1853.0,1875.2 1875.7,1870.9 1898.4,1875.2 1915.4,1880.8 1932.4,1897.9 1943.8,1909.2 1938.1,1920.6 1921.1,1917.7 1898.4,1923.4 1875.7,1920.6 1864.4,1917.7 1858.7,1897.9 1853.0,1886.5" fill="#00ff00"/>
<polygon points="1943.8,1914.9 1955.1,1912.0 1989.2,1914.9 2011.9,1920.6 2011.9,1931.9 1989.2,1937.6 1955.1,1931.9 1943.8,1923.4" fill="#00ff00"/>
<polygon points="1997.7,1868.1 2023.2,1866.7 2040.2,1878.0 2057.3,1878.0 2057.3,1914.9 2045.9,1912.0 2028.9,1903.5 2006.2,1883.7" fill="#00ff00"/>
<polygon points="1780.7,1605.7 1793.5,1619.9 1787.8,1631.2 1780.7,1631.2" fill="#00ff00"/>
<polygon points="1522.6,1408.6 1568.0,1408.6 1563.7,1432.7 1546.7,1432.7 1541.0,1466.7 1538.2,1532.0 1522.6,1532.0" fill="#ffffff"/>
<polygon points="1700.0,1250.0 2100.0,1250.0 2100.0,1650.0 1700.0,1650.0" fill="#00ff00"/>
<polygon points="1699.0,1249.0 1735.2,1249.0 1735.2,1253.1 1743.5,1253.1 1743.5,1273.8 1751.8,1273.8 1751.8,1299.7 1755.9,1299.7 1755.9,1326.6 1739.3,1326.6 1731.1,1318.3 1722.8,1314.2 1712.4,1326.6 1699.0,1330.7" fill="#ffffff"/>
<polygon points="1704.1,1303.8 1713.5,1303.8 1713.5,1316.3 1704.1,1316.3" fill="#00ff00"/>
<polygon points="2056.1,1249.0 2101.0,1249.0 2101.0,1651.0 2056.1,1651.0" fill="#ffffff"/>
<polygon points="2056.1,1291.4 2052.0,1312.1 2039.5,1322.5 2023.0,1345.2 2004.3,1355.6 1996.1,1374.2 1985.7,1386.6 1969.2,1394.9 1954.7,1407.3 1956.7,1419.8 1944.3,1436.3 1944.3,1449.8 1956.7,1449.8 1969.2,1469.5 1991.9,1488.1 1996.1,1496.4 2004.3,1519.2 2004.3,1531.6 2023.0,1531.6 2010.6,1508.8 2010.6,1496.4 2056.1,1496.4" fill="#ffffff"/>
<polygon points="1961.9,1415.6 1979.5,1415.6 1979.5,1423.9 1973.3,1426.0 1971.2,1440.5 1961.9,1436.3" fill="#00ff00"/>
<polygon points="2047.8,1459.1 2056.1,1459.1 2056.1,1488.1 2047.8,1488.1" fill="#00ff00"/>
<polygon points="1954.7,1361.8 1973.3,1355.6 1987.8,1328.7 1987.8,1355.6 2000.2,1349.4 2004.3,1355.6 1985.7,1386.6 1967.1,1390.8 1958.8,1390.8 1954.7,1374.2" fill="#ffffff"/>
<polygon points="1699.0,1560.6 1708.3,1558.5 1722.8,1548.1 1731.1,1539.9 1751.8,1537.8 1755.9,1523.3 1764.2,1531.6 1776.6,1531.6 1778.7,1517.1 1770.4,1504.7 1762.1,1500.5 1751.8,1496.4 1766.3,1484.0 1749.7,1465.3 1762.1,1459.1 1784.9,1463.3 1789.0,1448.8 1807.7,1436.3 1811.8,1419.8 1818.0,1403.2 1828.4,1403.2 1832.5,1409.4 1844.9,1419.8 1849.1,1432.2 1855.3,1448.8 1861.5,1459.1 1880.1,1473.6 1888.4,1488.1 1894.6,1519.2 1915.3,1539.9 1923.6,1556.4 1942.2,1562.6 1956.7,1577.1 1956.7,1593.7 1973.3,1606.1 1981.6,1614.4 1989.9,1618.5 1989.9,1651.0 1699.0,1651.0" fill="#ffffff"/>
<polygon points="1699.0,1568.8 1713.5,1568.8 1720.7,1573.0 1722.8,1587.5 1760.0,1587.5 1760.0,1593.7 1699.0,1593.7" fill="#00ff00"/>
<polygon points="1780.7,1604.0 1795.2,1618.5 1795.2,1631.0 1780.7,1631.0" fill="#00ff00"/>
<polygon points="1996.1,1620.6 2056.1,1620.6 2056.1,1651.0 2027.1,1651.0 2016.8,1637.2 2000.2,1628.9" fill="#00ff00"/>
<polygon points="2039.5,1548.1 2047.8,1548.1 2047.8,1552.3 2039.5,1552.3" fill="#ffffff"/>
<polygon points="1838.7,1310.0 1851.1,1303.8 1855.3,1310.0 1859.4,1316.3 1867.7,1332.8 1867.7,1351.4 1863.6,1359.7 1855.3,1359.7 1842.9,1365.9 1840.8,1382.5 1832.5,1392.9 1828.4,1390.8 1834.6,1365.9 1834.6,1355.6 1840.8,1349.4 1842.9,1332.8 1836.6,1320.4" fill="#ffffff"/>
<polygon points="1989.9,1563.7 2072.7,1563.7 2072.7,1620.6 1989.9,1620.6" fill="#ffffff"/>
</g>
<g stroke="#444" stroke-width="0.9" fill="none">
<line x1="688" y1="314" x2="465" y2="1958"/>
<line x1="1641" y1="314" x2="1750" y2="1958"/>
<polyline points="428,1853 683,1878 853,1893 981,1902 1250,1912 1743,1893 2072,1868"/>
</g>
<path d="M428.0,352.3 C429.4,355.1 434.7,363.3 436.5,369.3 C438.3,375.3 437.6,383.5 438.6,388.5 C439.7,393.4 440.4,396.3 442.9,399.1 C445.4,401.9 449.6,404.1 453.5,405.5 C457.4,406.9 462.0,405.6 466.3,407.6 C470.5,409.6 474.4,417.0 479.1,417.4 C483.7,417.7 492.5,412.4 493.9,409.7 C495.4,407.0 487.9,404.1 487.6,401.2 C487.2,398.4 487.6,393.9 491.8,392.7 C496.1,391.5 507.1,394.7 513.1,394.0 C519.1,393.3 523.4,389.2 528.0,388.5 C532.6,387.7 536.1,390.1 540.7,389.7 C545.4,389.4 547.5,387.0 555.6,386.3 C563.8,385.6 577.3,385.8 589.7,385.5 C602.1,385.1 620.9,385.3 630.1,384.2 C639.3,383.1 638.3,382.0 645.0,378.7 C651.7,375.3 664.1,369.0 670.5,364.2 C676.9,359.5 678.3,355.3 683.3,350.2 C688.2,345.0 697.6,337.4 700.3,333.1 C703.0,328.9 701.9,327.8 699.4,324.6 C697.0,321.4 687.7,315.8 685.4,314.0" fill="none" stroke="#000" stroke-width="2.6" stroke-linejoin="round" stroke-linecap="round"/>
<path d="M468.4,392.7 C470.2,392.2 473.4,392.9 474.8,394.0 C476.2,395.1 477.3,397.2 476.9,399.1 C476.6,401.0 474.4,404.8 472.7,405.5 C470.9,406.2 467.7,404.8 466.3,403.3 C464.9,401.9 463.8,398.7 464.2,397.0Z" fill="none" stroke="#000" stroke-width="2.6" stroke-linejoin="round" stroke-linecap="round"/>
<path d="M428.0,492.7 C430.1,494.1 435.1,498.7 440.8,501.2 C446.4,503.7 454.9,505.1 462.0,507.6 C469.1,510.1 476.9,512.9 483.3,516.1 C489.7,519.3 496.1,523.9 500.3,526.7 C504.6,529.6 504.6,532.9 508.8,533.1 C513.1,533.3 519.5,529.9 525.9,528.0 C532.2,526.1 539.3,521.8 547.1,521.6 C554.9,521.4 563.4,524.8 572.7,526.7 C581.9,528.6 591.8,531.3 602.4,533.1 C613.1,534.9 628.0,537.4 636.5,537.4 C645.0,537.4 646.4,536.0 653.5,533.1 C660.6,530.3 671.9,524.6 679.0,520.4 C686.1,516.1 689.0,514.0 696.0,507.6 C703.1,501.2 715.2,487.7 721.6,482.1 C728.0,476.4 729.4,478.2 734.3,473.5 C739.3,468.9 745.7,461.1 751.4,454.4 C757.0,447.7 762.0,440.2 768.4,433.1 C774.8,426.0 784.0,417.9 789.6,411.9 C795.3,405.8 797.8,403.3 802.4,397.0 C807.0,390.6 813.4,380.7 817.3,373.6 C821.2,366.5 823.7,361.2 825.8,354.4 C827.9,347.7 828.4,339.9 830.1,333.1 C831.7,326.4 834.7,317.2 835.6,314.0" fill="none" stroke="#000" stroke-width="2.6" stroke-linejoin="round" stroke-linecap="round"/>
<path d="M428.0,591.4 C430.8,592.8 439.3,596.9 445.0,599.9 C450.7,603.0 457.8,605.2 462.0,609.7 C466.3,614.2 466.3,623.2 470.5,626.7 C474.8,630.3 481.2,629.1 487.6,631.0 C493.9,632.9 501.0,637.3 508.8,638.2 C516.6,639.1 525.1,636.6 534.4,636.5 C543.6,636.4 554.2,637.8 564.1,637.4 C574.1,636.9 586.1,633.7 593.9,634.0 C601.7,634.2 602.4,637.7 611.0,638.6 C619.5,639.6 635.8,639.2 645.0,639.5 C654.2,639.8 659.9,641.5 666.3,640.3 C672.6,639.1 674.8,636.6 683.3,632.2 C691.8,627.9 708.1,617.7 717.3,614.0 C726.5,610.2 732.2,611.5 738.6,609.7 C745.0,607.9 748.5,607.9 755.6,603.3 C762.7,598.7 771.2,589.8 781.1,582.0 C791.1,574.2 803.1,566.4 815.2,556.5 C827.2,546.6 843.9,531.7 853.5,522.5 C863.0,513.3 866.2,510.4 872.6,501.2 C879.0,492.0 886.4,475.7 891.8,467.2 C897.1,458.7 901.7,455.1 904.5,450.1 C907.4,445.2 908.4,441.3 908.8,437.4 C909.1,433.5 904.5,432.1 906.6,426.7 C908.8,421.4 918.7,411.9 921.5,405.5 C924.4,399.1 921.9,395.2 923.7,388.5 C925.4,381.7 928.6,373.6 932.2,365.1 C935.7,356.5 943.2,344.5 944.9,337.4 C946.7,330.3 942.1,326.4 942.8,322.5 C943.5,318.6 948.1,315.4 949.2,314.0" fill="none" stroke="#000" stroke-width="2.6" stroke-linejoin="round" stroke-linecap="round"/>
<path d="M428.0,686.3 C429.4,689.5 431.5,701.2 436.5,705.4 C441.5,709.7 452.1,708.6 457.8,711.8 C463.5,715.0 465.6,721.7 470.5,724.6 C475.5,727.4 480.5,729.2 487.6,728.8 C494.7,728.5 503.9,724.1 513.1,722.4 C522.3,720.8 532.2,719.0 542.9,719.0 C553.5,719.0 566.3,722.1 576.9,722.4 C587.5,722.8 597.5,721.5 606.7,721.2 C615.9,720.8 623.4,720.7 632.2,720.3 C641.1,720.0 650.7,717.8 659.9,719.0 C669.1,720.2 676.5,727.8 687.5,727.6 C698.5,727.3 712.4,722.1 725.8,717.3 C739.3,712.6 754.2,705.6 768.4,699.0 C782.6,692.5 798.2,684.2 810.9,677.8 C823.7,671.4 835.0,664.7 845.0,660.8 C854.9,656.9 862.7,657.6 870.5,654.4 C878.3,651.2 886.1,646.6 891.8,641.6 C897.4,636.6 898.8,631.0 904.5,624.6 C910.2,618.2 918.0,609.7 925.8,603.3 C933.6,596.9 943.5,593.4 951.3,586.3 C959.1,579.2 967.6,568.6 972.6,560.8 C977.6,553.0 976.9,548.0 981.1,539.5 C985.4,531.0 991.0,521.1 998.1,509.7 C1005.2,498.4 1016.6,486.0 1023.7,471.4 C1030.7,456.9 1035.7,438.1 1040.7,422.5 C1045.6,406.9 1049.9,392.7 1053.4,377.8 C1057.0,362.9 1060.9,343.8 1061.9,333.1 C1063.0,322.5 1060.2,317.2 1059.8,314.0" fill="none" stroke="#000" stroke-width="2.6" stroke-linejoin="round" stroke-linecap="round"/>
<path d="M428.0,784.1 C430.1,785.6 435.1,791.9 440.8,792.6 C446.4,793.4 454.2,787.0 462.0,788.4 C469.8,789.8 479.1,798.3 487.6,801.2 C496.1,804.0 504.6,803.3 513.1,805.4 C521.6,807.5 532.2,811.9 538.6,813.9 C545.0,815.9 545.7,817.7 551.4,817.3 C557.1,817.0 563.4,812.6 572.7,811.8 C581.9,811.0 594.6,812.5 606.7,812.6 C618.8,812.8 632.2,813.1 645.0,812.6 C657.8,812.1 672.6,810.9 683.3,809.7 C693.9,808.5 701.0,805.8 708.8,805.4 C716.6,805.1 720.9,807.9 730.1,807.5 C739.3,807.2 750.6,805.1 764.1,803.3 C777.6,801.5 796.0,798.0 810.9,796.9 C825.8,795.8 842.1,798.3 853.5,796.9 C864.8,795.5 872.6,790.9 879.0,788.4 C885.4,785.9 882.5,786.3 891.8,782.0 C901.0,777.8 924.4,768.2 934.3,762.9 C944.2,757.5 943.5,754.4 951.3,750.1 C959.1,745.8 967.6,746.2 981.1,737.3 C994.6,728.5 1018.0,711.5 1032.2,696.9 C1046.3,682.4 1056.3,664.3 1066.2,650.1 C1076.1,635.9 1084.6,623.2 1091.7,611.8 C1098.8,600.5 1103.1,590.6 1108.7,582.0 C1114.4,573.5 1118.7,573.5 1125.8,560.8 C1132.9,548.0 1142.8,520.4 1151.3,505.5 C1159.8,490.6 1168.3,484.9 1176.8,471.4 C1185.3,457.9 1194.5,438.4 1202.3,424.6 C1210.1,410.8 1215.7,400.3 1223.6,388.5 C1231.6,376.6 1242.8,362.9 1250.0,353.4 C1257.2,343.8 1264.5,336.5 1267.0,331.0 C1269.5,325.5 1266.7,323.2 1264.9,320.4 C1263.1,317.5 1257.8,315.1 1256.4,314.0" fill="none" stroke="#000" stroke-width="2.6" stroke-linejoin="round" stroke-linecap="round"/>
<path d="M428.0,873.5 C430.1,873.8 433.7,872.8 440.8,875.6 C447.9,878.5 459.9,887.0 470.5,890.5 C481.2,894.1 493.9,895.1 504.6,896.9 C515.2,898.7 525.9,899.4 534.4,901.1 C542.9,902.9 549.3,906.1 555.6,907.5 C562.0,908.9 564.1,910.9 572.7,909.7 C581.2,908.4 598.9,902.1 606.7,900.3 C614.5,898.5 612.4,898.2 619.5,899.0 C626.6,899.9 641.4,904.7 649.2,905.4 C657.0,906.1 653.5,903.6 666.3,903.3 C679.0,902.9 708.8,902.9 725.8,903.3 C742.8,903.6 747.1,905.0 768.4,905.4 C789.6,905.8 835.0,905.8 853.5,905.4 C871.9,905.0 871.2,904.7 879.0,903.3 C886.8,901.9 893.9,898.3 900.3,896.9 C906.6,895.5 912.3,896.2 917.3,894.8 C922.2,893.3 920.1,891.6 930.0,888.4 C940.0,885.2 964.1,879.2 976.9,875.6 C989.6,872.1 996.0,870.7 1006.6,867.1 C1017.3,863.6 1031.5,857.9 1040.7,854.3 C1049.9,850.8 1055.6,848.7 1061.9,845.8 C1068.3,843.0 1073.3,841.6 1079.0,837.3 C1084.6,833.1 1088.2,829.5 1096.0,820.3 C1103.8,811.1 1114.4,793.4 1125.8,782.0 C1137.1,770.7 1152.7,762.9 1164.1,752.2 C1175.4,741.6 1185.3,732.4 1193.8,718.2 C1202.3,704.0 1208.7,686.3 1215.1,667.1 C1221.5,648.0 1226.3,619.6 1232.1,603.3 C1237.9,587.0 1243.5,580.6 1250.0,569.3 C1256.5,557.9 1264.2,546.6 1271.3,535.2 C1278.4,523.9 1285.5,511.1 1292.5,501.2 C1299.6,491.3 1306.7,484.2 1313.8,475.7 C1320.9,467.2 1327.3,457.9 1335.1,450.1 C1342.9,442.3 1351.4,436.0 1360.6,428.9 C1369.8,421.8 1381.9,414.7 1390.4,407.6 C1398.9,400.5 1403.2,394.8 1411.7,386.3 C1420.2,377.8 1431.5,364.7 1441.5,356.5 C1451.4,348.4 1460.6,342.0 1471.2,337.4 C1481.9,332.8 1492.5,331.7 1505.3,328.9 C1518.0,326.1 1536.5,322.9 1547.8,320.4 C1559.2,317.9 1569.1,315.1 1573.4,314.0" fill="none" stroke="#000" stroke-width="2.6" stroke-linejoin="round" stroke-linecap="round"/>
<path d="M428.0,979.9 C430.8,981.3 436.5,986.9 445.0,988.4 C453.5,989.8 464.2,987.5 479.1,988.4 C493.9,989.2 515.9,991.3 534.4,993.5 C552.8,995.6 573.4,999.5 589.7,1001.1 C606.0,1002.8 619.5,1003.5 632.2,1003.3 C645.0,1003.0 651.4,1000.6 666.3,999.9 C681.2,999.1 710.2,998.8 721.6,999.0 C732.9,999.2 725.1,1000.1 734.3,1001.1 C743.6,1002.2 764.1,1003.6 776.9,1005.4 C789.6,1007.2 798.2,1010.0 810.9,1011.8 C823.7,1013.5 843.5,1015.5 853.5,1016.0 C863.4,1016.5 867.6,1015.0 870.5,1014.7" fill="none" stroke="#000" stroke-width="2.6" stroke-linejoin="round" stroke-linecap="round"/>
<path d="M985.4,988.4 C990.3,985.9 1005.9,978.1 1015.1,973.5 C1024.4,968.9 1030.7,965.7 1040.7,960.7 C1050.6,955.7 1064.8,949.0 1074.7,943.7 C1084.6,938.4 1091.7,933.8 1100.2,928.8 C1108.7,923.8 1117.3,919.9 1125.8,913.9 C1134.3,907.9 1142.8,899.0 1151.3,892.6 C1159.8,886.3 1169.0,879.9 1176.8,875.6 C1184.6,871.4 1190.3,872.8 1198.1,867.1 C1205.9,861.4 1215.0,851.2 1223.6,841.6 C1232.3,832.0 1241.3,820.3 1250.0,809.7 C1258.7,799.0 1267.0,788.7 1275.5,777.8 C1284.0,766.8 1291.1,757.2 1301.1,743.7 C1311.0,730.2 1327.3,709.0 1335.1,696.9 C1342.9,684.9 1342.2,679.2 1347.9,671.4 C1353.5,663.6 1362.0,656.1 1369.1,650.1 C1376.2,644.1 1386.9,637.7 1390.4,635.2" fill="none" stroke="#000" stroke-width="2.6" stroke-linejoin="round" stroke-linecap="round"/>
<path d="M428.0,1088.3 C433.7,1089.1 447.9,1091.5 462.0,1092.6 C476.2,1093.7 498.2,1094.0 513.1,1094.7 C528.0,1095.4 538.6,1095.4 551.4,1096.9 C564.1,1098.3 577.6,1101.1 589.7,1103.2 C601.7,1105.4 611.0,1107.8 623.7,1109.6 C636.5,1111.4 650.7,1112.5 666.3,1113.9 C681.9,1115.3 701.7,1117.1 717.3,1118.1 C732.9,1119.2 744.3,1119.4 759.9,1120.3 C775.5,1121.1 798.2,1123.6 810.9,1123.2 C823.7,1122.9 826.5,1120.0 836.4,1118.1 C846.4,1116.2 857.7,1115.3 870.5,1111.7 C883.2,1108.2 901.7,1100.4 913.0,1096.9 C924.4,1093.3 927.9,1093.3 938.6,1090.5 C949.2,1087.6 962.7,1084.4 976.9,1079.8 C991.0,1075.2 1008.8,1068.5 1023.7,1062.8 C1038.5,1057.1 1053.4,1050.1 1066.2,1045.8 C1079.0,1041.5 1086.8,1040.8 1100.2,1037.3 C1113.7,1033.7 1132.9,1028.8 1147.0,1024.5 C1161.2,1020.3 1174.0,1016.7 1185.3,1011.8 C1196.7,1006.8 1204.3,1000.4 1215.1,994.7 C1225.9,989.1 1239.9,983.4 1250.0,977.7 C1260.1,972.1 1267.7,966.4 1275.5,960.7 C1283.3,955.0 1288.3,948.7 1296.8,943.7 C1305.3,938.7 1318.1,935.9 1326.6,930.9 C1335.1,926.0 1337.2,922.4 1347.9,913.9 C1358.5,905.4 1376.9,891.2 1390.4,879.9 C1403.9,868.5 1418.1,854.3 1428.7,845.8 C1439.3,837.3 1444.3,835.2 1454.2,828.8 C1464.2,822.4 1476.9,815.3 1488.3,807.5 C1499.6,799.7 1512.4,789.1 1522.3,782.0 C1532.2,774.9 1539.3,770.0 1547.8,765.0 C1556.3,760.0 1559.2,755.8 1573.4,752.2 C1587.5,748.7 1615.9,745.8 1632.9,743.7 C1649.9,741.6 1661.3,741.2 1675.5,739.5 C1689.6,737.7 1701.7,735.2 1718.0,733.1 C1734.3,731.0 1760.6,728.8 1773.3,726.7 C1786.1,724.6 1786.8,722.4 1794.6,720.3 C1802.4,718.2 1810.2,720.7 1820.1,713.9 C1830.1,707.2 1845.7,689.8 1854.2,679.9 C1862.7,670.0 1865.5,664.3 1871.2,654.4 C1876.9,644.4 1882.5,629.6 1888.2,620.3 C1893.9,611.1 1896.7,606.9 1905.2,599.1 C1913.7,591.3 1929.3,579.9 1939.3,573.5 C1949.2,567.2 1957.0,565.7 1964.8,560.8 C1972.6,555.8 1980.4,551.6 1986.1,543.8 C1991.7,536.0 1995.3,525.3 1998.8,514.0 C2002.4,502.6 2004.5,494.8 2007.3,475.7 C2010.2,456.5 2014.4,420.4 2015.8,399.1 C2017.3,377.8 2018.0,360.1 2015.8,348.0 C2013.7,336.0 2005.9,332.4 2003.1,326.8 C2000.2,321.1 1999.5,316.1 1998.8,314.0" fill="none" stroke="#000" stroke-width="2.6" stroke-linejoin="round" stroke-linecap="round"/>
<path d="M427.2,324.1 C428.6,324.2 432.3,325.6 435.8,324.9 C439.3,324.1 445.3,320.0 448.2,319.4 C451.0,318.9 451.0,321.6 452.8,321.8 C454.7,321.9 457.5,321.1 459.1,320.2 C460.6,319.3 459.6,317.0 462.2,316.3 C464.7,315.7 470.4,314.8 474.6,316.3 C478.7,317.9 482.6,324.5 487.0,325.6 C491.4,326.8 497.4,323.1 501.0,323.3 C504.6,323.6 505.1,325.8 508.7,327.2 C512.4,328.6 518.3,331.3 522.7,331.9 C527.1,332.4 531.5,329.8 535.1,330.3 C538.8,330.8 541.9,334.7 544.5,335.0 C547.0,335.2 548.6,332.1 550.7,331.9 C552.7,331.6 555.1,332.4 556.9,333.4 C558.7,334.4 560.0,336.0 561.5,338.1 C563.1,340.1 565.4,342.3 566.2,345.8 C567.0,349.3 566.2,356.2 566.2,359.0 C566.2,361.9 567.2,361.2 566.2,362.9 C565.2,364.6 562.6,366.5 560.0,369.1 C557.4,371.7 553.8,374.4 550.7,378.4 C547.6,382.5 542.8,389.4 541.4,393.2 C539.9,396.9 544.2,396.8 542.1,401.0 C540.1,405.1 531.1,414.2 528.9,418.0 C526.7,421.9 530.7,421.1 528.9,424.2 C527.1,427.4 521.4,433.8 518.1,436.7 C514.7,439.5 511.1,439.8 508.7,441.3 C506.4,442.9 505.1,443.9 504.1,446.0 C503.1,448.1 503.8,451.3 502.5,453.8 C501.2,456.2 499.2,458.5 496.3,460.7 C493.5,462.9 487.8,465.3 485.5,467.0 C483.1,468.6 483.4,470.6 482.3,470.8 C481.3,471.1 482.3,468.9 479.2,468.5 C476.1,468.1 469.1,467.0 463.7,468.5 C458.3,470.1 450.3,476.5 446.6,477.8 C443.0,479.1 436.8,477.2 442.0,476.3 C447.2,475.4 472.0,471.3 477.7,472.4 C483.4,473.4 474.3,478.9 476.1,482.5 C477.9,486.1 489.1,490.6 488.6,494.1 C488.0,497.6 476.9,502.5 473.0,503.4 C469.1,504.3 469.1,498.9 465.3,499.6 C461.4,500.2 452.8,505.1 449.7,507.3 C446.6,509.5 449.7,511.3 446.6,512.8 C443.5,514.2 434.3,515.0 431.1,515.9 C427.9,516.8 424.9,517.2 427.2,518.2 C429.6,519.2 440.8,520.3 445.1,522.1 C449.4,523.9 450.0,528.2 452.8,529.1 C455.7,530.0 459.6,529.2 462.2,527.5 C464.7,525.8 465.3,520.1 468.4,519.0 C471.5,517.8 477.9,519.2 480.8,520.5 C483.6,521.8 482.1,523.5 485.5,526.7 C488.8,530.0 496.6,537.3 501.0,539.9 C505.4,542.5 509.5,540.6 511.9,542.3 C514.2,543.9 513.9,546.9 515.0,550.0 C516.0,553.1 516.8,557.8 518.1,560.9 C519.4,564.0 520.7,566.3 522.7,568.7 C524.8,571.0 528.9,572.8 530.5,574.9 C532.0,576.9 530.5,578.8 532.0,581.1 C533.6,583.4 538.5,585.5 539.8,588.8 C541.1,592.2 540.3,596.9 539.8,601.3 C539.3,605.6 536.3,606.2 536.8,615.0 C537.3,623.9 541.2,642.1 542.9,654.4 C544.6,666.6 545.0,679.9 547.1,688.4 C549.3,696.9 549.3,699.8 555.6,705.4 C562.0,711.1 578.3,716.8 585.4,722.4 C592.5,728.1 594.6,732.4 598.2,739.5 C601.7,746.6 603.9,758.6 606.7,765.0 C609.5,771.4 614.5,772.8 615.2,777.8 C615.9,782.7 610.2,787.0 611.0,794.8 C611.7,802.6 616.6,816.8 619.5,824.6 C622.3,832.4 625.1,832.4 628.0,841.6 C630.8,850.8 635.8,869.9 636.5,879.9 C637.2,889.8 635.8,896.2 632.2,901.1 C628.7,906.1 619.5,906.1 615.2,909.7 C611.0,913.2 605.3,918.2 606.7,922.4 C608.1,926.7 618.0,935.9 623.7,935.2 C629.4,934.5 633.6,921.0 640.7,918.2 C647.8,915.3 657.8,916.7 666.3,918.2 C674.8,919.6 683.3,922.4 691.8,926.7 C700.3,930.9 711.6,936.6 717.3,943.7 C723.0,950.8 725.1,960.7 725.8,969.2 C726.5,977.7 723.7,987.7 721.6,994.7 C719.4,1001.8 716.6,1004.7 713.1,1011.8 C709.5,1018.9 706.0,1031.6 700.3,1037.3 C694.6,1043.0 686.8,1041.5 679.0,1045.8 C671.2,1050.1 658.5,1057.1 653.5,1062.8 C648.5,1068.5 653.5,1074.9 649.2,1079.8 C645.0,1084.8 628.0,1089.1 628.0,1092.6 C628.0,1096.1 640.0,1097.6 649.2,1101.1 C658.5,1104.7 677.3,1108.1 683.3,1113.9 C689.3,1119.7 690.4,1130.2 685.4,1136.0 C680.4,1141.8 659.5,1144.9 653.5,1148.8 C647.5,1152.7 654.9,1155.9 649.2,1159.4 C643.6,1162.9 629.4,1166.8 619.5,1170.0 C609.5,1173.2 600.3,1178.5 589.7,1178.5 C579.0,1178.5 568.4,1173.2 555.6,1170.0 C542.9,1166.8 526.6,1161.9 513.1,1159.4 C499.6,1156.9 485.4,1155.5 474.8,1155.1 C464.2,1154.8 457.4,1156.6 449.3,1157.3 C441.1,1158.0 429.8,1159.0 425.9,1159.4" fill="none" stroke="#808080" stroke-width="2.4" stroke-linejoin="round" stroke-linecap="round"/>
<path d="M564.1,820.3 C569.8,820.7 589.0,818.9 598.2,822.4 C607.4,826.0 614.5,838.4 619.5,841.6 C624.4,844.8 626.6,841.6 628.0,841.6" fill="none" stroke="#808080" stroke-width="2.4" stroke-linejoin="round" stroke-linecap="round"/>
<path d="M885.2,1081.3 C885.4,1078.5 883.5,1070.2 886.2,1064.7 C889.0,1059.2 896.1,1054.7 901.8,1048.1 C907.5,1041.6 915.6,1033.0 920.4,1025.4 C925.2,1017.8 927.6,1009.8 930.7,1002.6 C933.9,995.3 936.4,990.9 939.0,981.9 C941.6,972.9 944.9,956.3 946.3,948.8 C947.7,941.2 945.4,940.3 947.3,936.3 C949.2,932.4 955.8,928.1 957.7,924.9 C959.5,921.8 954.7,920.8 958.2,917.7 C961.6,914.6 969.3,910.2 978.4,906.3 C987.4,902.4 1001.5,896.3 1012.5,894.4 C1023.6,892.5 1035.8,895.5 1044.6,894.9 C1053.4,894.3 1061.9,891.5 1065.3,890.8" fill="none" stroke="#808080" stroke-width="2.4" stroke-linejoin="round" stroke-linecap="round"/>
<path d="M1021.8,1000.5 C1019.4,999.8 1010.1,999.1 1007.3,996.4 C1004.6,993.6 1004.6,987.1 1005.3,984.0 C1006.0,980.8 1010.8,980.8 1011.5,977.7 C1012.2,974.6 1012.5,967.4 1009.4,965.3 C1006.3,963.3 996.0,969.5 992.9,965.3 C989.8,961.2 989.8,948.1 990.8,940.5 C991.8,932.9 994.9,924.9 999.1,919.8 C1003.2,914.6 1010.1,912.2 1015.6,909.4 C1021.2,906.7 1025.3,904.4 1032.2,903.2 C1039.1,902.0 1045.7,903.0 1057.0,902.2 C1068.4,901.3 1092.9,896.5 1100.5,898.0 C1108.1,899.6 1099.8,908.2 1102.6,911.5 C1105.3,914.8 1112.9,915.6 1117.1,917.7 C1121.2,919.8 1126.1,923.9 1127.4,923.9 C1128.8,923.9 1123.6,918.4 1125.4,917.7 C1127.1,917.0 1135.4,918.0 1137.8,919.8 C1140.2,921.5 1139.5,926.7 1139.9,928.1" fill="none" stroke="#808080" stroke-width="2.4" stroke-linejoin="round" stroke-linecap="round"/>
<path d="M1112.9,911.5 C1112.8,908.7 1110.9,899.4 1111.9,894.9 C1112.9,890.4 1116.9,888.0 1119.2,884.6 C1121.4,881.1 1120.5,876.3 1125.4,874.2 C1130.2,872.2 1138.5,872.5 1148.1,872.2 C1157.8,871.8 1176.1,870.1 1183.3,872.2 C1190.6,874.2 1189.7,881.1 1191.6,884.6 C1193.5,888.0 1195.1,890.4 1194.7,892.9 C1194.4,895.3 1188.3,896.7 1189.5,899.1 C1190.8,901.5 1199.9,909.4 1202.0,907.3 C1204.0,905.3 1199.9,890.8 1202.0,886.6 C1204.0,882.5 1211.3,881.1 1214.4,882.5 C1217.5,883.9 1220.3,889.8 1220.6,894.9 C1220.9,900.1 1217.1,910.5 1216.5,913.6" fill="none" stroke="#808080" stroke-width="2.4" stroke-linejoin="round" stroke-linecap="round"/>
<path d="M1218.5,894.9 C1218.9,891.8 1219.6,882.5 1220.6,876.3 C1221.6,870.1 1223.0,861.8 1224.7,857.7 C1226.5,853.5 1227.8,851.4 1231.0,851.4 C1234.1,851.4 1240.3,857.3 1243.4,857.7 C1246.5,858.1 1244.1,854.4 1249.5,853.9 C1254.8,853.3 1269.1,850.7 1275.5,854.3 C1282.0,858.0 1282.6,869.2 1288.3,875.6 C1294.0,882.0 1306.0,889.8 1309.6,892.6" fill="none" stroke="#808080" stroke-width="2.4" stroke-linejoin="round" stroke-linecap="round"/>
<path d="M965.9,988.1 C965.9,991.9 964.6,1004.3 965.9,1010.9 C967.3,1017.4 972.8,1024.7 974.2,1027.4" fill="none" stroke="#808080" stroke-width="2.4" stroke-linejoin="round" stroke-linecap="round"/>
<path d="M1086.0,882.5 C1088.8,881.4 1096.7,877.8 1102.6,875.8 C1108.5,873.8 1113.3,872.2 1121.2,870.6 C1129.2,869.0 1140.2,867.8 1150.2,866.5 C1160.2,865.2 1176.1,863.4 1181.3,862.8" fill="none" stroke="#808080" stroke-width="2.4" stroke-linejoin="round" stroke-linecap="round"/>
<path d="M858.3,1089.5 C861.0,1088.9 867.9,1083.3 874.8,1085.4 C881.7,1087.5 892.4,1099.6 899.7,1102.0 C906.9,1104.4 911.4,1102.0 918.3,1099.9 C925.2,1097.8 937.3,1091.3 941.1,1089.5" fill="none" stroke="#808080" stroke-width="2.4" stroke-linejoin="round" stroke-linecap="round"/>
<path d="M849.0,1106.1 C851.9,1105.8 860.9,1102.7 866.6,1104.0 C872.3,1105.4 878.0,1111.3 883.1,1114.4 C888.3,1117.5 895.5,1119.9 897.6,1122.7 C899.7,1125.4 899.3,1130.6 895.5,1131.0 C891.8,1131.3 881.1,1125.4 874.8,1124.7 C868.6,1124.1 862.6,1127.2 858.3,1126.8 C854.0,1126.5 850.5,1123.4 849.0,1122.7" fill="none" stroke="#808080" stroke-width="2.4" stroke-linejoin="round" stroke-linecap="round"/>
<path d="M1224.7,797.6 C1227.8,798.3 1239.0,801.8 1243.4,801.8 C1247.8,801.8 1249.8,798.3 1251.0,797.6" fill="none" stroke="#808080" stroke-width="2.4" stroke-linejoin="round" stroke-linecap="round"/>
<path d="M1241.3,810.0 L1251.0,820.4" fill="none" stroke="#808080" stroke-width="2.4" stroke-linejoin="round" stroke-linecap="round"/>
<path d="M1471.2,560.8 C1476.2,557.9 1493.2,548.4 1501.0,543.8 C1508.8,539.1 1514.5,538.8 1518.0,533.1 C1521.6,527.4 1518.8,515.4 1522.3,509.7 C1525.8,504.0 1530.8,502.3 1539.3,499.1 C1547.8,495.9 1560.6,493.4 1573.4,490.6 C1586.1,487.7 1606.0,486.0 1615.9,482.1 C1625.8,478.2 1626.5,472.5 1632.9,467.2 C1639.3,461.8 1647.8,452.6 1654.2,450.1 C1660.6,447.7 1662.0,453.0 1671.2,452.3 C1680.4,451.6 1698.2,448.7 1709.5,445.9 C1720.8,443.1 1726.5,440.6 1739.3,435.3 C1752.0,429.9 1774.0,420.7 1786.1,414.0 C1798.1,407.2 1803.1,401.6 1811.6,394.8 C1820.1,388.1 1828.6,382.1 1837.1,373.6 C1845.7,365.1 1858.8,352.3 1862.7,343.8 C1866.6,335.3 1861.3,327.5 1860.5,322.5 C1859.8,317.5 1858.8,315.4 1858.4,314.0" fill="none" stroke="#000" stroke-width="2.6" stroke-linejoin="round" stroke-linecap="round"/>
<path d="M425.9,1207.5 C430.5,1207.6 439.0,1207.1 453.5,1208.3 C468.1,1209.5 494.7,1212.2 513.1,1214.7 C531.5,1217.2 547.1,1220.7 564.1,1223.2 C581.2,1225.7 601.0,1227.5 615.2,1229.6 C629.4,1231.7 637.9,1233.9 649.2,1236.0 C660.6,1238.1 674.8,1241.4 683.3,1242.4 C691.8,1243.3 694.6,1243.3 700.3,1241.5 C706.0,1239.7 712.4,1234.8 717.3,1231.7 C722.3,1228.7 724.4,1224.4 730.1,1223.2 C735.8,1222.0 740.7,1225.2 751.4,1224.5 C762.0,1223.8 781.1,1221.0 793.9,1219.0 C806.7,1217.0 815.9,1214.7 827.9,1212.6 C840.0,1210.5 851.3,1207.6 866.2,1206.2 C881.1,1204.8 902.4,1204.8 917.3,1204.1 C932.2,1203.4 944.9,1203.4 955.6,1201.9 C966.2,1200.5 971.2,1198.8 981.1,1195.6 C991.0,1192.4 1005.2,1185.8 1015.1,1182.8 C1025.1,1179.8 1033.6,1178.4 1040.7,1177.7 C1047.8,1177.0 1050.6,1177.3 1057.7,1178.5 C1064.8,1179.8 1076.8,1187.1 1083.2,1184.9 C1089.6,1182.8 1084.6,1170.7 1096.0,1165.8 C1107.3,1160.8 1135.0,1158.7 1151.3,1155.1 C1167.6,1151.6 1181.8,1147.1 1193.8,1144.5 C1205.9,1141.9 1214.0,1143.2 1223.6,1139.4 C1233.3,1135.6 1243.1,1127.4 1251.7,1121.7 C1260.4,1116.1 1268.0,1107.7 1275.5,1105.4 C1283.0,1103.0 1289.0,1110.0 1296.8,1107.5 C1304.6,1105.0 1313.8,1094.4 1322.3,1090.5 C1330.8,1086.6 1339.3,1084.1 1347.9,1084.1 C1356.4,1084.1 1366.3,1089.8 1373.4,1090.5 C1380.5,1091.2 1386.1,1090.8 1390.4,1088.3 C1394.7,1085.9 1396.1,1079.1 1398.9,1075.6 C1401.7,1072.0 1399.6,1069.9 1407.4,1067.1 C1415.2,1064.2 1435.1,1062.1 1445.7,1058.6 C1456.4,1055.0 1462.7,1050.1 1471.2,1045.8 C1479.8,1041.5 1488.3,1037.3 1496.8,1033.0 C1505.3,1028.8 1512.4,1023.5 1522.3,1020.3 C1532.2,1017.1 1545.7,1015.3 1556.3,1013.9 C1567.0,1012.5 1577.6,1012.5 1586.1,1011.8 C1594.6,1011.1 1599.6,1011.8 1607.4,1009.6 C1615.2,1007.5 1627.2,1003.3 1632.9,999.0 C1638.6,994.7 1636.5,986.6 1641.4,984.1 C1646.4,981.6 1655.6,986.2 1662.7,984.1 C1669.8,982.0 1677.6,976.0 1684.0,971.3 C1690.4,966.7 1695.3,960.7 1701.0,956.5 C1706.7,952.2 1712.3,947.9 1718.0,945.8 C1723.7,943.7 1727.9,946.5 1735.0,943.7 C1742.1,940.9 1750.6,930.9 1760.6,928.8 C1770.5,926.7 1785.4,933.1 1794.6,930.9 C1803.8,928.8 1807.4,920.3 1815.9,916.0 C1824.4,911.8 1833.6,910.7 1845.7,905.4 C1857.7,900.1 1875.4,889.8 1888.2,884.1 C1901.0,878.5 1912.3,878.5 1922.2,871.4 C1932.2,864.3 1939.3,850.4 1947.8,841.6 C1956.3,832.7 1964.8,822.4 1973.3,818.2 C1981.8,813.9 1991.7,819.2 1998.8,816.0 C2005.9,812.9 2008.7,806.1 2015.8,799.0 C2022.9,791.9 2031.7,782.7 2041.4,773.5 C2051.1,764.3 2068.7,748.7 2074.1,743.7" fill="none" stroke="#000" stroke-width="2.6" stroke-linejoin="round" stroke-linecap="round"/>
<path d="M1777.6,450.1 C1774.0,465.0 1764.8,487.7 1760.6,505.5 C1756.3,523.2 1752.0,553.0 1752.0,556.5 C1752.0,560.1 1755.6,545.9 1760.6,526.7 C1765.5,507.6 1778.3,460.1 1781.8,441.6 C1785.4,423.2 1782.5,414.7 1781.8,416.1Z" fill="none" stroke="#808080" stroke-width="2.4" stroke-linejoin="round" stroke-linecap="round"/>
<path d="M1888.2,348.0 C1877.6,360.8 1855.6,381.4 1849.9,399.1 C1844.2,416.8 1852.0,447.3 1854.2,454.4 C1856.3,461.5 1857.0,447.3 1862.7,441.6 C1868.3,436.0 1881.8,427.5 1888.2,420.4 C1894.6,413.3 1898.1,408.3 1901.0,399.1 C1903.8,389.9 1903.1,377.8 1905.2,365.1 C1907.3,352.3 1916.6,325.3 1913.7,322.5Z" fill="none" stroke="#808080" stroke-width="2.4" stroke-linejoin="round" stroke-linecap="round"/>
<path d="M1420.2,722.4 C1429.4,722.4 1442.9,726.0 1450.0,731.0 C1457.1,735.9 1464.2,745.8 1462.7,752.2 C1461.3,758.6 1450.7,767.1 1441.5,769.2 C1432.2,771.4 1415.2,769.2 1407.4,765.0 C1399.6,760.7 1396.8,749.4 1394.7,743.7 C1392.5,738.0 1390.4,734.5 1394.7,731.0Z" fill="none" stroke="#808080" stroke-width="2.4" stroke-linejoin="round" stroke-linecap="round"/>
<path d="M1377.6,845.8 C1379.8,840.9 1383.3,824.6 1390.4,816.0 C1397.5,807.5 1408.1,800.4 1420.2,794.8 C1432.2,789.1 1451.4,782.0 1462.7,782.0 C1474.1,782.0 1481.2,794.8 1488.3,794.8 C1495.4,794.8 1496.8,787.0 1505.3,782.0 C1513.8,777.0 1530.8,770.0 1539.3,765.0 C1547.8,760.0 1550.7,753.6 1556.3,752.2 C1562.0,750.8 1569.1,749.4 1573.4,756.5 C1577.6,763.6 1577.6,783.4 1581.9,794.8 C1586.1,806.1 1593.9,816.0 1598.9,824.6 C1603.8,833.1 1606.0,841.6 1611.6,845.8 C1617.3,850.1 1625.8,852.9 1632.9,850.1 C1640.0,847.3 1647.1,833.8 1654.2,828.8 C1661.3,823.8 1664.8,826.0 1675.5,820.3 C1686.1,814.6 1703.8,802.6 1718.0,794.8 C1732.2,787.0 1750.6,781.3 1760.6,773.5 C1770.5,765.7 1770.5,755.1 1777.6,748.0 C1784.7,740.9 1791.8,736.6 1803.1,731.0 C1814.5,725.3 1831.5,717.8 1845.7,713.9 C1859.8,710.0 1876.9,706.8 1888.2,707.6 C1899.5,708.3 1906.6,714.3 1913.7,718.2 C1920.8,722.1 1926.5,724.6 1930.7,731.0 C1935.0,737.3 1932.2,752.2 1939.3,756.5 C1946.3,760.7 1961.9,759.3 1973.3,756.5 C1984.6,753.6 1998.1,746.6 2007.3,739.5 C2016.5,732.4 2022.9,719.6 2028.6,713.9 C2034.3,708.3 2039.2,706.8 2041.4,705.4" fill="none" stroke="#808080" stroke-width="2.4" stroke-linejoin="round" stroke-linecap="round"/>
<path d="M2074.1,373.6 C2070.8,386.3 2056.8,424.6 2054.1,450.1 C2051.5,475.7 2055.5,503.3 2058.4,526.7 C2061.2,550.1 2069.7,569.3 2071.1,590.6 C2072.6,611.8 2071.9,640.2 2066.9,654.4 C2061.9,668.6 2051.3,671.4 2041.4,675.6 C2031.4,679.9 2013.0,674.9 2007.3,679.9 C2001.7,684.9 2007.3,701.2 2007.3,705.4" fill="none" stroke="#808080" stroke-width="2.4" stroke-linejoin="round" stroke-linecap="round"/>
<path d="M1586.1,314.0 C1586.8,318.3 1590.4,331.7 1590.4,339.5 C1590.4,347.3 1584.7,354.4 1586.1,360.8 C1587.5,367.2 1595.3,378.5 1598.9,377.8 C1602.4,377.1 1604.6,367.2 1607.4,356.5 C1610.2,345.9 1614.5,321.1 1615.9,314.0" fill="none" stroke="#808080" stroke-width="2.4" stroke-linejoin="round" stroke-linecap="round"/>
<path d="M1649.9,696.9 C1654.9,702.6 1671.2,711.1 1675.5,709.7 C1679.7,708.3 1680.4,694.1 1675.5,688.4 C1670.5,682.7 1649.9,674.2 1645.7,675.6Z" fill="none" stroke="#808080" stroke-width="2.4" stroke-linejoin="round" stroke-linecap="round"/>
<path d="M425.9,1313.8 C430.5,1314.0 439.0,1313.8 453.5,1314.7 C468.1,1315.5 494.7,1318.1 513.1,1319.0 C531.5,1319.8 546.4,1320.2 564.1,1319.8 C581.9,1319.4 603.9,1316.3 619.5,1316.8 C635.1,1317.4 645.7,1321.3 657.8,1323.2 C669.8,1325.1 676.2,1327.2 691.8,1328.3 C707.4,1329.4 734.3,1329.7 751.4,1329.6 C768.4,1329.4 779.7,1328.5 793.9,1327.5 C808.1,1326.4 823.7,1323.6 836.4,1323.2 C849.2,1322.9 860.6,1324.8 870.5,1325.3 C880.4,1325.9 888.2,1328.0 896.0,1326.6 C903.8,1325.2 908.1,1319.2 917.3,1316.8 C926.5,1314.5 937.8,1313.6 951.3,1312.6 C964.8,1311.5 984.7,1310.4 998.1,1310.4 C1011.6,1310.4 1021.5,1310.4 1032.2,1312.6 C1042.8,1314.7 1052.0,1321.4 1061.9,1323.2 C1071.9,1325.0 1082.5,1323.6 1091.7,1323.2 C1100.9,1322.9 1107.3,1322.1 1117.3,1321.1 C1127.2,1320.0 1142.8,1319.3 1151.3,1316.8 C1159.8,1314.3 1161.9,1312.2 1168.3,1306.2 C1174.7,1300.2 1186.7,1287.7 1189.6,1280.7 C1192.4,1273.6 1184.6,1268.6 1185.3,1263.6 C1186.0,1258.7 1188.2,1256.5 1193.8,1250.9 C1199.5,1245.2 1212.3,1236.7 1219.4,1229.6 C1226.5,1222.5 1231.3,1212.8 1236.4,1208.3 C1241.5,1203.9 1243.5,1204.1 1250.0,1203.0 C1256.5,1201.9 1267.0,1201.4 1275.5,1201.9 C1284.0,1202.5 1292.5,1204.8 1301.1,1206.2 C1309.6,1207.6 1318.1,1210.1 1326.6,1210.5 C1335.1,1210.8 1343.6,1207.6 1352.1,1208.3 C1360.6,1209.0 1371.3,1213.6 1377.6,1214.7 C1384.0,1215.8 1386.1,1216.5 1390.4,1214.7 C1394.7,1212.9 1396.8,1206.6 1403.2,1204.1 C1409.5,1201.6 1418.8,1202.3 1428.7,1199.8 C1438.6,1197.3 1450.0,1192.4 1462.7,1189.2 C1475.5,1186.0 1492.5,1183.5 1505.3,1180.7 C1518.0,1177.8 1529.4,1174.3 1539.3,1172.2 C1549.2,1170.0 1554.9,1169.0 1564.8,1167.9 C1574.8,1166.8 1590.4,1167.9 1598.9,1165.8 C1607.4,1163.7 1610.2,1157.3 1615.9,1155.1 C1621.6,1153.0 1625.1,1153.4 1632.9,1153.0 C1640.7,1152.7 1655.6,1154.4 1662.7,1153.0 C1669.8,1151.6 1669.0,1147.7 1675.2,1144.5 C1681.4,1141.3 1687.9,1136.9 1700.0,1134.0 C1712.1,1131.1 1737.2,1125.8 1748.0,1127.0 C1758.8,1128.2 1760.2,1139.3 1765.0,1141.0 C1769.8,1142.7 1766.5,1137.2 1777.0,1137.0 C1787.5,1136.8 1813.5,1141.0 1828.0,1140.0 C1842.5,1139.0 1853.2,1133.0 1864.0,1131.0 C1874.8,1129.0 1882.5,1130.3 1893.0,1128.0 C1903.5,1125.7 1917.2,1121.2 1927.0,1117.0 C1936.8,1112.8 1944.0,1106.3 1952.0,1103.0 C1960.0,1099.7 1969.7,1100.3 1975.0,1097.0 C1980.3,1093.7 1976.5,1088.7 1984.0,1083.0 C1991.5,1077.3 2010.7,1067.7 2020.0,1063.0 C2029.3,1058.3 2033.8,1060.2 2040.0,1055.0 C2046.2,1049.8 2051.2,1036.8 2057.0,1032.0 C2062.8,1027.2 2072.0,1027.0 2075.0,1026.0" fill="none" stroke="#000" stroke-width="2.6" stroke-linejoin="round" stroke-linecap="round"/>
<path d="M425.9,1408.3 C430.5,1408.4 442.5,1407.7 453.5,1409.1 C464.5,1410.6 476.9,1413.9 491.8,1416.8 C506.7,1419.7 527.3,1422.9 542.9,1426.6 C558.5,1430.3 573.4,1435.7 585.4,1438.9 C597.5,1442.1 606.0,1442.9 615.2,1445.7 C624.4,1448.6 629.4,1451.9 640.7,1456.0 C652.1,1460.0 667.7,1465.9 683.3,1470.0 C698.9,1474.1 720.2,1478.0 734.3,1480.6 C748.5,1483.3 755.6,1484.2 768.4,1485.7 C781.1,1487.3 797.4,1487.6 810.9,1490.0 C824.4,1492.3 838.6,1499.1 849.2,1499.8 C859.8,1500.5 864.8,1496.0 874.7,1494.2 C884.7,1492.5 899.6,1491.4 908.8,1489.1 C918.0,1486.9 922.2,1483.0 930.0,1480.6 C937.8,1478.3 951.3,1476.0 955.6,1475.1" fill="none" stroke="#000" stroke-width="2.6" stroke-linejoin="round" stroke-linecap="round"/>
<path d="M1068.3,1463.6 C1070.8,1462.5 1077.9,1459.5 1083.2,1457.2 C1088.5,1455.0 1096.0,1449.3 1100.2,1450.0 C1104.5,1450.7 1105.9,1457.8 1108.7,1461.5 C1111.6,1465.2 1114.1,1472.5 1117.3,1472.1 C1120.4,1471.8 1125.1,1463.6 1127.9,1459.4 C1130.7,1455.1 1130.4,1448.0 1134.3,1446.6 C1138.2,1445.2 1149.2,1447.3 1151.3,1450.8 C1153.4,1454.4 1146.3,1461.5 1147.0,1467.9 C1147.7,1474.2 1151.3,1487.7 1155.5,1489.1 C1159.8,1490.6 1166.2,1481.3 1172.6,1476.4 C1178.9,1471.4 1185.3,1462.9 1193.8,1459.4 C1202.3,1455.8 1214.3,1456.2 1223.6,1455.1 C1233.0,1454.0 1243.5,1454.4 1250.0,1453.0 C1256.5,1451.6 1258.5,1450.5 1262.8,1446.6 C1267.0,1442.7 1270.6,1433.8 1275.5,1429.6 C1280.5,1425.3 1284.7,1426.0 1292.5,1421.1 C1300.3,1416.1 1312.4,1405.1 1322.3,1399.8 C1332.3,1394.5 1342.2,1392.7 1352.1,1389.2 C1362.0,1385.6 1374.1,1382.4 1381.9,1378.5 C1389.7,1374.6 1393.2,1370.7 1398.9,1365.8 C1404.6,1360.8 1413.1,1351.6 1415.9,1348.7" fill="none" stroke="#000" stroke-width="2.6" stroke-linejoin="round" stroke-linecap="round"/>
<path d="M425.9,1544.4 C430.5,1545.0 442.5,1546.4 453.5,1547.9 C464.5,1549.3 478.3,1551.0 491.8,1553.0 C505.3,1554.9 520.2,1557.1 534.4,1559.3 C548.5,1561.6 559.2,1563.4 576.9,1566.6 C594.6,1569.8 623.0,1575.6 640.7,1578.5 C658.5,1581.3 670.5,1582.9 683.3,1583.6 C696.0,1584.3 706.0,1581.6 717.3,1582.7 C728.7,1583.9 738.6,1588.3 751.4,1590.4 C764.1,1592.5 781.8,1594.5 793.9,1595.5 C806.0,1596.5 815.2,1595.3 823.7,1596.4 C832.2,1597.4 837.9,1601.0 845.0,1601.9 C852.0,1602.8 858.4,1601.7 866.2,1601.9 C874.0,1602.1 884.7,1600.7 891.8,1603.2 C898.8,1605.6 905.2,1610.6 908.8,1616.8 C912.3,1622.9 908.1,1636.6 913.0,1640.2 C918.0,1643.7 927.2,1639.0 938.6,1638.0 C949.9,1637.1 968.3,1635.7 981.1,1634.6 C993.9,1633.6 1004.5,1632.2 1015.1,1631.7 C1025.8,1631.2 1036.4,1631.2 1044.9,1631.7 C1053.4,1632.2 1057.0,1634.1 1066.2,1634.6 C1075.4,1635.1 1088.9,1634.4 1100.2,1634.6 C1111.6,1634.9 1127.9,1633.2 1134.3,1635.9 C1140.7,1638.6 1135.7,1645.8 1138.5,1650.8 C1141.4,1655.8 1143.5,1661.8 1151.3,1665.7 C1159.1,1669.6 1178.2,1672.4 1185.3,1674.2 C1192.4,1676.0 1190.3,1677.1 1193.8,1676.3 C1197.4,1675.6 1202.3,1672.4 1206.6,1670.0 C1210.9,1667.5 1215.1,1663.9 1219.4,1661.5 C1223.6,1659.0 1227.9,1657.6 1232.1,1655.1 C1236.4,1652.6 1241.9,1649.4 1244.9,1646.6 C1247.9,1643.7 1246.3,1640.9 1250.0,1638.0 C1253.7,1635.2 1261.3,1631.7 1267.0,1629.5 C1272.7,1627.4 1278.4,1628.8 1284.0,1625.3 C1289.7,1621.7 1296.1,1613.2 1301.1,1608.3 C1306.0,1603.3 1308.1,1600.5 1313.8,1595.5 C1319.5,1590.5 1328.7,1582.7 1335.1,1578.5 C1341.5,1574.2 1346.4,1575.6 1352.1,1570.0 C1357.8,1564.3 1364.9,1551.5 1369.1,1544.4 C1373.4,1537.4 1374.1,1532.4 1377.6,1527.4 C1381.2,1522.5 1385.4,1518.9 1390.4,1514.7 C1395.4,1510.4 1402.5,1506.9 1407.4,1501.9 C1412.4,1496.9 1414.5,1488.4 1420.2,1484.9 C1425.9,1481.3 1434.4,1482.8 1441.5,1480.6 C1448.6,1478.5 1454.2,1476.4 1462.7,1472.1 C1471.2,1467.9 1484.7,1460.8 1492.5,1455.1 C1500.3,1449.4 1506.0,1443.0 1509.5,1438.1 C1513.1,1433.1 1510.2,1427.8 1513.8,1425.3 C1517.3,1422.8 1525.8,1423.9 1530.8,1423.2 C1535.8,1422.5 1539.3,1420.0 1543.6,1421.1 C1547.8,1422.1 1553.1,1426.0 1556.3,1429.6 C1559.5,1433.1 1562.0,1436.0 1562.7,1442.3 C1563.4,1448.7 1561.3,1458.6 1560.6,1467.9 C1559.9,1477.1 1559.9,1489.1 1558.5,1497.6 C1557.0,1506.2 1552.4,1512.5 1552.1,1518.9 C1551.7,1525.3 1557.0,1531.0 1556.3,1535.9 C1555.6,1540.9 1548.5,1544.4 1547.8,1548.7 C1547.1,1553.0 1549.2,1557.2 1552.1,1561.5 C1554.9,1565.7 1560.2,1574.2 1564.8,1574.2 C1569.5,1574.2 1573.4,1562.2 1579.7,1561.5 C1586.1,1560.8 1595.7,1567.1 1603.1,1570.0 C1610.6,1572.8 1619.4,1575.6 1624.4,1578.5 C1629.4,1581.3 1628.7,1584.9 1632.9,1587.0 C1637.2,1589.1 1644.6,1591.2 1649.9,1591.2 C1655.3,1591.2 1664.1,1589.1 1664.8,1587.0 C1665.5,1584.9 1658.1,1581.3 1654.2,1578.5 C1650.3,1575.6 1645.7,1570.7 1641.4,1570.0 C1637.2,1569.3 1631.9,1571.4 1628.7,1574.2 C1625.5,1577.1 1623.0,1582.7 1622.3,1587.0 C1621.6,1591.2 1626.2,1596.2 1624.4,1599.8 C1622.6,1603.3 1617.3,1607.6 1611.6,1608.3 C1606.0,1609.0 1596.8,1604.0 1590.4,1604.0 C1584.0,1604.0 1577.6,1606.1 1573.4,1608.3 C1569.1,1610.4 1568.4,1617.5 1564.8,1616.8 C1561.3,1616.1 1557.0,1605.4 1552.1,1604.0 C1547.1,1602.6 1538.3,1604.0 1535.1,1608.3 C1531.9,1612.5 1532.2,1623.2 1532.9,1629.5 C1533.6,1635.9 1537.5,1642.3 1539.3,1646.6 C1541.1,1650.8 1542.9,1653.7 1543.6,1655.1" fill="none" stroke="#000" stroke-width="2.6" stroke-linejoin="round" stroke-linecap="round"/>
<path d="M1157.7,1565.7 C1159.4,1566.4 1166.2,1566.4 1168.3,1570.0 C1170.4,1573.5 1171.9,1582.7 1170.4,1587.0 C1169.0,1591.2 1161.6,1594.1 1159.8,1595.5" fill="none" stroke="#000" stroke-width="2.6" stroke-linejoin="round" stroke-linecap="round"/>
<path d="M425.9,1723.1 C430.5,1721.6 446.1,1715.6 453.5,1713.8 C461.0,1712.0 464.2,1713.8 470.5,1712.5 C476.9,1711.2 483.3,1706.1 491.8,1706.1 C500.3,1706.1 511.0,1712.2 521.6,1712.5 C532.2,1712.9 542.9,1709.8 555.6,1708.3 C568.4,1706.7 584.0,1704.2 598.2,1703.1 C612.4,1702.1 628.0,1701.0 640.7,1701.9 C653.5,1702.7 666.3,1705.4 674.8,1708.3 C683.3,1711.1 686.1,1715.7 691.8,1718.9 C697.5,1722.1 702.4,1725.3 708.8,1727.4 C715.2,1729.5 723.7,1728.1 730.1,1731.7 C736.5,1735.2 738.6,1744.8 747.1,1748.7 C755.6,1752.6 771.9,1752.2 781.1,1755.1 C790.4,1757.9 797.4,1762.5 802.4,1765.7 C807.4,1768.9 809.1,1769.2 810.9,1774.2 C812.7,1779.2 811.6,1788.4 813.0,1795.5 C814.5,1802.6 816.9,1809.7 819.4,1816.7 C821.9,1823.8 824.4,1832.3 827.9,1838.0 C831.5,1843.7 835.0,1847.9 840.7,1850.8 C846.4,1853.6 857.7,1852.2 862.0,1855.0 C866.2,1857.9 866.2,1862.8 866.2,1867.8 C866.2,1872.8 864.1,1879.1 862.0,1884.8 C859.8,1890.5 855.6,1896.9 853.5,1901.8 C851.3,1906.8 851.3,1911.1 849.2,1914.6 C847.1,1918.1 843.9,1920.3 840.7,1923.1 C837.5,1925.9 831.5,1925.5 830.1,1931.6 C828.6,1937.8 831.8,1955.4 832.2,1960.1" fill="none" stroke="#000" stroke-width="2.6" stroke-linejoin="round" stroke-linecap="round"/>
<path d="M425.9,1925.2 C430.5,1927.0 446.1,1933.4 453.5,1935.9 C461.0,1938.4 460.6,1936.1 470.5,1940.1 C480.5,1944.2 506.0,1956.8 513.1,1960.1" fill="none" stroke="#000" stroke-width="2.6" stroke-linejoin="round" stroke-linecap="round"/>
<path d="M966.2,1782.7 C968.7,1777.0 977.9,1759.3 981.1,1748.7 C984.3,1738.0 981.1,1724.7 985.4,1718.9 C989.6,1713.1 1002.7,1713.4 1006.6,1713.8 C1010.5,1714.1 1010.9,1715.9 1008.8,1721.0 C1006.6,1726.1 999.2,1737.7 993.9,1744.4 C988.6,1751.2 980.8,1756.5 976.9,1761.4 C973.0,1766.4 971.5,1772.1 970.5,1774.2" fill="none" stroke="#000" stroke-width="2.6" stroke-linejoin="round" stroke-linecap="round"/>
<path d="M1032.2,1761.4 C1035.7,1759.7 1047.8,1750.1 1053.4,1750.8 C1059.1,1751.5 1064.1,1763.2 1066.2,1765.7" fill="none" stroke="#000" stroke-width="2.6" stroke-linejoin="round" stroke-linecap="round"/>
<path d="M1117.3,1750.8 C1115.8,1751.2 1114.4,1751.2 1108.7,1752.9 C1103.1,1754.7 1087.5,1763.6 1083.2,1761.4 C1079.0,1759.3 1079.0,1744.4 1083.2,1740.2 C1087.5,1735.9 1103.1,1738.4 1108.7,1735.9 C1114.4,1733.4 1115.8,1727.0 1117.3,1725.3" fill="none" stroke="#000" stroke-width="2.6" stroke-linejoin="round" stroke-linecap="round"/>
<path d="M1040.7,1778.5 C1037.8,1779.2 1027.9,1781.3 1023.7,1782.7 C1019.4,1784.1 1016.9,1782.0 1015.1,1787.0 C1013.4,1791.9 1012.3,1807.5 1013.0,1812.5 C1013.7,1817.5 1017.6,1813.2 1019.4,1816.7 C1021.2,1820.3 1024.4,1828.1 1023.7,1833.8 C1022.9,1839.4 1020.1,1845.1 1015.1,1850.8 C1010.2,1856.5 999.5,1861.4 993.9,1867.8 C988.2,1874.2 982.5,1884.5 981.1,1889.1 C979.7,1893.7 982.5,1895.5 985.4,1895.5 C988.2,1895.5 991.7,1890.1 998.1,1889.1 C1004.5,1888.0 1017.3,1891.2 1023.7,1889.1 C1030.0,1886.9 1030.7,1880.6 1036.4,1876.3 C1042.1,1872.1 1054.9,1867.1 1057.7,1863.5 C1060.5,1860.0 1052.0,1857.9 1053.4,1855.0 C1054.9,1852.2 1063.4,1851.5 1066.2,1846.5 C1069.0,1841.6 1069.7,1828.8 1070.5,1825.3" fill="none" stroke="#000" stroke-width="2.6" stroke-linejoin="round" stroke-linecap="round"/>
<path d="M1002.4,1816.7 C1005.2,1816.4 1010.2,1818.9 1010.9,1821.0 C1011.6,1823.1 1009.1,1827.7 1006.6,1829.5 C1004.2,1831.3 998.1,1832.7 996.0,1831.6 C993.9,1830.6 992.8,1825.6 993.9,1823.1Z" fill="none" stroke="#000" stroke-width="2.6" stroke-linejoin="round" stroke-linecap="round"/>
<path d="M1168.3,1782.7 C1166.9,1785.5 1162.6,1794.8 1159.8,1799.7 C1157.0,1804.7 1152.7,1808.2 1151.3,1812.5 C1149.9,1816.7 1152.7,1821.7 1151.3,1825.3 C1149.9,1828.8 1146.7,1833.4 1142.8,1833.8 C1138.9,1834.1 1130.0,1826.7 1127.9,1827.4 C1125.8,1828.1 1130.4,1834.1 1130.0,1838.0 C1129.7,1841.9 1129.3,1847.2 1125.8,1850.8 C1122.2,1854.3 1114.4,1856.5 1108.7,1859.3 C1103.1,1862.1 1096.0,1863.5 1091.7,1867.8 C1087.5,1872.1 1086.8,1880.6 1083.2,1884.8 C1079.7,1889.1 1073.3,1890.5 1070.5,1893.3 C1067.6,1896.2 1066.2,1896.9 1066.2,1901.8 C1066.2,1906.8 1067.6,1917.4 1070.5,1923.1 C1073.3,1928.8 1079.7,1932.3 1083.2,1935.9 C1086.8,1939.4 1087.5,1940.3 1091.7,1944.4 C1096.0,1948.4 1105.9,1957.5 1108.7,1960.1" fill="none" stroke="#000" stroke-width="2.6" stroke-linejoin="round" stroke-linecap="round"/>
<path d="M1089.6,1960.0 C1091.3,1950.3 1094.1,1917.3 1100.0,1902.0 C1105.9,1886.7 1116.7,1877.3 1125.0,1868.0 C1133.3,1858.7 1142.4,1852.3 1150.0,1846.0 C1157.6,1839.7 1165.5,1834.9 1170.7,1830.4 C1175.9,1825.9 1177.5,1822.8 1181.0,1819.0 C1184.5,1815.2 1189.3,1811.0 1191.4,1807.7 C1193.5,1804.4 1192.3,1801.5 1193.5,1799.4 C1194.7,1797.3 1196.3,1796.4 1198.7,1795.2 C1201.1,1794.0 1205.4,1793.5 1208.0,1792.1 C1210.6,1790.7 1212.5,1788.5 1214.2,1787.0 C1215.9,1785.5 1216.9,1783.0 1218.3,1782.8 C1219.7,1782.6 1221.1,1784.6 1222.5,1786.0 C1223.9,1787.4 1224.4,1790.6 1226.6,1791.1 C1228.8,1791.6 1233.5,1788.8 1235.9,1789.0 C1238.3,1789.2 1240.4,1790.2 1241.1,1792.1 C1241.8,1794.0 1239.7,1797.8 1240.0,1800.4 C1240.3,1803.0 1241.0,1805.6 1243.2,1807.7 C1245.5,1809.8 1250.8,1812.1 1253.5,1812.8 C1256.2,1813.5 1257.3,1812.3 1259.7,1811.8 C1262.1,1811.3 1265.6,1809.3 1268.0,1809.7 C1270.4,1810.1 1271.8,1812.2 1274.2,1813.9 C1276.6,1815.6 1279.0,1819.0 1282.5,1820.0 C1286.0,1821.0 1290.1,1819.5 1294.9,1820.0 C1299.7,1820.5 1307.3,1822.0 1311.5,1823.2 C1315.7,1824.4 1316.9,1827.0 1319.8,1827.3 C1322.7,1827.6 1326.3,1824.3 1329.1,1825.2 C1331.8,1826.1 1333.6,1830.4 1336.3,1832.5 C1339.0,1834.6 1341.1,1836.3 1345.2,1837.9 C1349.2,1839.6 1355.2,1842.3 1360.6,1842.3 C1366.0,1842.3 1367.7,1837.3 1377.6,1838.0 C1387.6,1838.7 1410.3,1846.5 1420.2,1846.5 C1430.1,1846.5 1433.0,1842.3 1437.2,1838.0 C1441.5,1833.8 1440.0,1825.3 1445.7,1821.0 C1451.4,1816.7 1461.3,1816.0 1471.2,1812.5 C1481.2,1808.9 1492.5,1803.3 1505.3,1799.7 C1518.0,1796.2 1533.6,1792.6 1547.8,1791.2 C1562.0,1789.8 1579.0,1789.8 1590.4,1791.2 C1601.7,1792.6 1610.2,1795.5 1615.9,1799.7 C1621.6,1804.0 1620.2,1811.1 1624.4,1816.7 C1628.7,1822.4 1640.0,1828.1 1641.4,1833.8 C1642.8,1839.4 1634.0,1844.4 1632.9,1850.8 C1631.9,1857.2 1632.9,1864.3 1635.0,1872.1 C1637.2,1879.9 1641.8,1891.2 1645.7,1897.6 C1649.6,1904.0 1654.9,1908.2 1658.4,1910.3 C1662.0,1912.5 1665.5,1910.3 1667.0,1910.3" fill="none" stroke="#000" stroke-width="2.6" stroke-linejoin="round" stroke-linecap="round"/>
<path d="M1049.2,1878.4 C1050.2,1877.7 1054.1,1874.2 1055.6,1874.2 C1057.0,1874.2 1058.4,1877.2 1057.7,1878.4 C1057.0,1879.6 1052.4,1880.9 1051.3,1881.4" fill="none" stroke="#000" stroke-width="2.6" stroke-linejoin="round" stroke-linecap="round"/>
<path d="M466.3,1170.0 C470.5,1173.9 474.8,1178.5 479.1,1178.5 C483.3,1178.5 490.4,1173.2 491.8,1170.0 C493.2,1166.8 493.9,1161.9 487.6,1159.4 C481.2,1156.9 457.1,1153.4 453.5,1155.1Z" fill="none" stroke="#808080" stroke-width="2.4" stroke-linejoin="round" stroke-linecap="round"/>
<path d="M425.9,1284.9 C431.2,1284.9 452.5,1282.8 457.8,1284.9 C463.1,1287.0 458.5,1292.7 457.8,1297.7 C457.1,1302.6 452.8,1309.0 453.5,1314.7 C454.2,1320.4 455.7,1327.5 462.0,1331.7 C468.4,1336.0 479.8,1337.7 491.8,1340.2 C503.9,1342.7 522.3,1347.7 534.4,1346.6 C546.4,1345.5 555.6,1336.3 564.1,1333.8 C572.7,1331.4 581.9,1332.1 585.4,1331.7" fill="none" stroke="#808080" stroke-width="2.4" stroke-linejoin="round" stroke-linecap="round"/>
<path d="M555.6,1319.0 C558.5,1315.4 558.5,1304.1 572.7,1297.7 C586.8,1291.3 623.7,1287.0 640.7,1280.7 C657.8,1274.3 667.0,1263.6 674.8,1259.4 C682.6,1255.1 686.1,1262.9 687.5,1255.1 C689.0,1247.3 682.6,1225.3 683.3,1212.6 C684.0,1199.8 684.7,1187.1 691.8,1178.5 C698.9,1170.0 713.1,1166.5 725.8,1161.5 C738.6,1156.6 755.6,1153.4 768.4,1148.8 C781.1,1144.2 796.7,1136.4 802.4,1133.9" fill="none" stroke="#808080" stroke-width="2.4" stroke-linejoin="round" stroke-linecap="round"/>
<path d="M1074.7,1672.1 C1081.8,1667.8 1090.3,1666.4 1091.7,1667.8 C1093.1,1669.3 1088.9,1676.3 1083.2,1680.6 C1077.5,1684.9 1063.4,1691.2 1057.7,1693.4 C1052.0,1695.5 1046.3,1696.9 1049.2,1693.4Z" fill="none" stroke="#808080" stroke-width="2.4" stroke-linejoin="round" stroke-linecap="round"/>
<path d="M1023.7,1735.9 C1030.0,1730.9 1037.8,1728.1 1044.9,1727.4 C1052.0,1726.7 1061.9,1729.5 1066.2,1731.7 C1070.5,1733.8 1072.6,1738.7 1070.5,1740.2 C1068.3,1741.6 1061.2,1738.7 1053.4,1740.2 C1045.6,1741.6 1031.5,1745.8 1023.7,1748.7 C1015.9,1751.5 1006.6,1759.3 1006.6,1757.2Z" fill="none" stroke="#808080" stroke-width="2.4" stroke-linejoin="round" stroke-linecap="round"/>
<path d="M1130.0,1701.9 C1131.4,1703.3 1135.0,1709.7 1138.5,1710.4 C1142.1,1711.1 1147.7,1707.5 1151.3,1706.1 C1154.8,1704.7 1158.4,1702.6 1159.8,1701.9" fill="none" stroke="#808080" stroke-width="2.4" stroke-linejoin="round" stroke-linecap="round"/>
<path d="M974.7,1808.2 C975.8,1810.4 980.4,1816.7 981.1,1821.0 C981.8,1825.3 979.3,1831.6 979.0,1833.8" fill="none" stroke="#808080" stroke-width="2.4" stroke-linejoin="round" stroke-linecap="round"/>
<path d="M1002.4,1799.7 L1010.9,1812.5" fill="none" stroke="#808080" stroke-width="2.4" stroke-linejoin="round" stroke-linecap="round"/>
<path d="M1193.8,1825.3 C1196.0,1822.4 1202.3,1813.9 1206.6,1808.2 C1210.9,1802.6 1215.8,1796.2 1219.4,1791.2 C1222.9,1786.3 1227.9,1781.3 1227.9,1778.5 C1227.9,1775.6 1222.2,1772.8 1219.4,1774.2 C1216.5,1775.6 1214.4,1782.0 1210.9,1787.0 C1207.3,1791.9 1200.2,1801.1 1198.1,1804.0" fill="none" stroke="#808080" stroke-width="2.4" stroke-linejoin="round" stroke-linecap="round"/>
<path d="M1522.3,1293.4 C1526.6,1294.8 1540.0,1299.4 1547.8,1301.9 C1555.6,1304.4 1562.0,1308.0 1569.1,1308.3 C1576.2,1308.7 1583.3,1304.4 1590.4,1304.1 C1597.5,1303.7 1606.7,1304.4 1611.6,1306.2 C1616.6,1308.0 1617.7,1312.2 1620.2,1314.7 C1622.6,1317.2 1623.7,1321.8 1626.5,1321.1 C1629.4,1320.4 1633.6,1312.2 1637.2,1310.4 C1640.7,1308.7 1645.7,1308.3 1647.8,1310.4 C1649.9,1312.6 1650.3,1319.0 1649.9,1323.2 C1649.6,1327.5 1648.5,1331.7 1645.7,1336.0 C1642.8,1340.2 1634.7,1345.2 1632.9,1348.7 C1631.1,1352.3 1632.2,1355.8 1635.0,1357.2 C1637.9,1358.7 1643.2,1358.7 1649.9,1357.2 C1656.7,1355.8 1667.0,1350.9 1675.5,1348.7 C1684.0,1346.6 1693.9,1347.0 1701.0,1344.5 C1708.1,1342.0 1711.6,1337.4 1718.0,1333.8 C1724.4,1330.3 1733.6,1326.4 1739.3,1323.2 C1745.0,1320.0 1745.7,1315.8 1752.0,1314.7 C1758.4,1313.6 1768.4,1315.4 1777.6,1316.8 C1786.8,1318.2 1801.0,1320.0 1807.4,1323.2 C1813.7,1326.4 1813.7,1331.7 1815.9,1336.0 C1818.0,1340.2 1817.3,1347.3 1820.1,1348.7 C1823.0,1350.2 1828.6,1346.6 1832.9,1344.5 C1837.1,1342.4 1841.8,1335.3 1845.7,1336.0 C1849.6,1336.7 1854.5,1343.8 1856.3,1348.7 C1858.1,1353.7 1858.1,1361.5 1856.3,1365.8 C1854.5,1370.0 1849.6,1374.3 1845.7,1374.3 C1841.8,1374.3 1838.6,1367.2 1832.9,1365.8 C1827.2,1364.3 1815.9,1362.9 1811.6,1365.8 C1807.4,1368.6 1809.5,1377.8 1807.4,1382.8 C1805.2,1387.7 1803.1,1392.3 1798.9,1395.5 C1794.6,1398.7 1786.1,1399.8 1781.8,1401.9 C1777.6,1404.0 1774.0,1404.4 1773.3,1408.3 C1772.6,1412.2 1775.5,1421.1 1777.6,1425.3 C1779.7,1429.6 1785.4,1428.2 1786.1,1433.8 C1786.8,1439.5 1783.3,1453.0 1781.8,1459.4 C1780.4,1465.7 1779.7,1468.6 1777.6,1472.1 C1775.5,1475.7 1767.7,1478.5 1769.1,1480.6 C1770.5,1482.8 1780.4,1484.2 1786.1,1484.9 C1791.8,1485.6 1799.6,1482.8 1803.1,1484.9 C1806.7,1487.0 1808.1,1494.1 1807.4,1497.6 C1806.7,1501.2 1801.7,1504.7 1798.9,1506.2 C1796.0,1507.6 1790.3,1505.4 1790.3,1506.2 C1790.3,1506.9 1795.3,1508.3 1798.9,1510.4 C1802.4,1512.5 1808.8,1513.2 1811.6,1518.9 C1814.5,1524.6 1815.9,1536.6 1815.9,1544.4 C1815.9,1552.2 1808.8,1561.5 1811.6,1565.7 C1814.5,1570.0 1828.6,1567.1 1832.9,1570.0 C1837.1,1572.8 1836.1,1577.1 1837.1,1582.7 C1838.2,1588.4 1838.2,1599.8 1839.3,1604.0 C1840.3,1608.3 1844.6,1606.8 1843.5,1608.3 C1842.5,1609.7 1838.2,1612.5 1832.9,1612.5 C1827.6,1612.5 1817.3,1606.8 1811.6,1608.3 C1805.9,1609.7 1802.4,1616.1 1798.9,1621.0 C1795.3,1626.0 1790.3,1632.4 1790.3,1638.0 C1790.3,1643.7 1798.1,1650.1 1798.9,1655.1 C1799.6,1660.0 1795.3,1662.9 1794.6,1667.8 C1793.9,1672.8 1791.8,1680.6 1794.6,1684.9 C1797.4,1689.1 1805.2,1692.7 1811.6,1693.4 C1818.0,1694.1 1825.8,1689.5 1832.9,1689.1 C1840.0,1688.8 1849.9,1689.8 1854.2,1691.2 C1858.4,1692.7 1857.7,1696.6 1858.4,1697.6" fill="none" stroke="#000" stroke-width="2.6" stroke-linejoin="round" stroke-linecap="round"/>
<path d="M1956.3,1723.1 C1959.1,1722.8 1967.6,1722.4 1973.3,1721.0 C1979.0,1719.6 1984.6,1716.4 1990.3,1714.6 C1996.0,1712.9 2001.7,1709.7 2007.3,1710.4 C2013.0,1711.1 2018.7,1718.2 2024.3,1718.9 C2030.0,1719.6 2033.1,1716.8 2041.4,1714.6 C2049.7,1712.5 2068.7,1707.5 2074.1,1706.1" fill="none" stroke="#000" stroke-width="2.6" stroke-linejoin="round" stroke-linecap="round"/>
<path d="M1837.1,1267.9 C1842.1,1264.3 1847.8,1262.2 1854.2,1263.6 C1860.5,1265.1 1871.2,1272.9 1875.4,1276.4 C1879.7,1279.9 1880.4,1281.7 1879.7,1284.9 C1879.0,1288.1 1874.7,1294.8 1871.2,1295.5 C1867.6,1296.3 1862.7,1290.2 1858.4,1289.2 C1854.2,1288.1 1849.2,1287.0 1845.7,1289.2 C1842.1,1291.3 1840.7,1300.5 1837.1,1301.9 C1833.6,1303.3 1826.5,1300.5 1824.4,1297.7 C1822.3,1294.8 1822.3,1289.9 1824.4,1284.9Z" fill="none" stroke="#000" stroke-width="2.6" stroke-linejoin="round" stroke-linecap="round"/>
<path d="M2074.1,1284.9 C2071.5,1289.9 2064.6,1306.9 2058.4,1314.7 C2052.2,1322.5 2042.8,1326.8 2037.1,1331.7 C2031.4,1336.7 2026.8,1338.8 2024.3,1344.5 C2021.9,1350.2 2022.2,1360.8 2022.2,1365.8 C2022.2,1370.7 2022.6,1371.8 2024.3,1374.3 C2026.1,1376.7 2030.7,1377.1 2032.9,1380.6 C2035.0,1384.2 2034.3,1392.3 2037.1,1395.5 C2039.9,1398.7 2043.7,1396.2 2049.9,1399.8 C2056.0,1403.3 2070.1,1414.0 2074.1,1416.8" fill="none" stroke="#000" stroke-width="2.6" stroke-linejoin="round" stroke-linecap="round"/>
<path d="M1671.2,1608.3 C1667.7,1609.7 1657.7,1614.6 1649.9,1616.8 C1642.1,1618.9 1631.5,1618.9 1624.4,1621.0 C1617.3,1623.2 1613.1,1626.0 1607.4,1629.5 C1601.7,1633.1 1596.0,1637.3 1590.4,1642.3 C1584.7,1647.3 1580.4,1657.9 1573.4,1659.3 C1566.3,1660.7 1554.9,1654.4 1547.8,1650.8 C1540.7,1647.3 1535.8,1641.6 1530.8,1638.0 C1525.8,1634.5 1521.6,1629.5 1518.0,1629.5 C1514.5,1629.5 1511.7,1635.2 1509.5,1638.0 C1507.4,1640.9 1508.8,1641.6 1505.3,1646.6 C1501.7,1651.5 1492.5,1665.0 1488.3,1667.8 C1484.0,1670.7 1483.3,1663.6 1479.8,1663.6 C1476.2,1663.6 1470.5,1665.0 1467.0,1667.8 C1463.4,1670.7 1461.3,1678.5 1458.5,1680.6 C1455.6,1682.7 1452.8,1683.4 1450.0,1680.6 C1447.1,1677.8 1443.6,1669.3 1441.5,1663.6 C1439.3,1657.9 1437.2,1650.1 1437.2,1646.6 C1437.2,1643.0 1442.2,1641.6 1441.5,1642.3 C1440.8,1643.0 1435.1,1647.3 1433.0,1650.8 C1430.8,1654.4 1428.0,1659.3 1428.7,1663.6 C1429.4,1667.8 1436.5,1672.1 1437.2,1676.3 C1437.9,1680.6 1435.8,1686.3 1433.0,1689.1 C1430.1,1691.9 1423.7,1690.5 1420.2,1693.4 C1416.6,1696.2 1414.5,1703.3 1411.7,1706.1 C1408.8,1709.0 1408.8,1709.7 1403.2,1710.4 C1397.5,1711.1 1384.0,1709.7 1377.6,1710.4 C1371.3,1711.1 1367.0,1712.5 1364.9,1714.6 C1362.7,1716.8 1359.9,1720.3 1364.9,1723.1 C1369.8,1726.0 1391.1,1727.4 1394.7,1731.7 C1398.2,1735.9 1389.0,1743.7 1386.1,1748.7 C1383.3,1753.6 1380.5,1755.8 1377.6,1761.4 C1374.8,1767.1 1372.0,1774.9 1369.1,1782.7 C1366.3,1790.5 1363.5,1808.2 1360.6,1808.2 C1357.8,1808.2 1354.9,1790.5 1352.1,1782.7 C1349.3,1774.9 1346.9,1764.7 1343.6,1761.5 C1340.3,1758.2 1335.5,1762.1 1332.2,1763.1 C1328.9,1764.1 1327.4,1766.9 1323.9,1767.3 C1320.5,1767.7 1316.3,1765.0 1311.5,1765.2 C1306.7,1765.4 1299.4,1768.3 1294.9,1768.3 C1290.4,1768.3 1287.2,1767.4 1284.6,1765.2 C1282.0,1763.0 1281.1,1757.1 1279.4,1754.9 C1277.7,1752.7 1276.5,1751.3 1274.2,1751.8 C1272.0,1752.3 1267.8,1756.3 1265.9,1758.0 C1264.0,1759.7 1263.8,1762.3 1262.8,1762.1 C1261.8,1761.9 1261.2,1758.2 1259.7,1756.9 C1258.2,1755.6 1255.7,1754.6 1253.5,1754.3 C1251.3,1754.0 1248.0,1756.0 1246.3,1754.9 C1244.6,1753.8 1244.2,1750.0 1243.2,1747.6 C1242.2,1745.2 1241.5,1742.2 1240.1,1740.4 C1238.7,1738.6 1236.5,1736.9 1234.9,1736.7 C1233.3,1736.5 1231.4,1738.0 1230.7,1739.3 C1230.0,1740.6 1230.5,1741.7 1230.7,1744.5 C1230.9,1747.3 1232.3,1753.8 1231.8,1755.9 C1231.3,1758.0 1228.3,1756.7 1227.6,1756.9" fill="none" stroke="#000" stroke-width="2.6" stroke-linejoin="round" stroke-linecap="round"/>
<path d="M1671.2,1633.8 C1666.2,1635.2 1649.9,1640.2 1641.4,1642.3 C1632.9,1644.4 1627.2,1644.4 1620.2,1646.6 C1613.1,1648.7 1605.3,1651.9 1598.9,1655.1 C1592.5,1658.3 1587.5,1663.6 1581.9,1665.7 C1576.2,1667.8 1567.7,1667.5 1564.8,1667.8" fill="none" stroke="#000" stroke-width="2.6" stroke-linejoin="round" stroke-linecap="round"/>
<path d="M1637.2,1663.6 C1641.8,1664.3 1647.1,1668.5 1647.8,1672.1 C1648.5,1675.6 1645.3,1682.7 1641.4,1684.9 C1637.5,1687.0 1628.0,1686.3 1624.4,1684.9 C1620.9,1683.4 1620.9,1679.2 1620.2,1676.3 C1619.4,1673.5 1617.3,1670.0 1620.2,1667.8Z" fill="none" stroke="#000" stroke-width="2.6" stroke-linejoin="round" stroke-linecap="round"/>
<path d="M1586.1,1687.0 C1588.2,1687.7 1587.9,1692.3 1586.1,1693.4 C1584.3,1694.4 1577.6,1694.1 1575.5,1693.4 C1573.4,1692.7 1571.6,1690.2 1573.4,1689.1Z" fill="none" stroke="#000" stroke-width="2.6" stroke-linejoin="round" stroke-linecap="round"/>
<path d="M1445.7,1706.1 C1446.8,1707.2 1445.0,1708.3 1443.6,1708.3 C1442.2,1708.3 1438.3,1707.2 1437.2,1706.1 C1436.1,1705.1 1435.8,1701.9 1437.2,1701.9Z" fill="none" stroke="#000" stroke-width="2.6" stroke-linejoin="round" stroke-linecap="round"/>
<path d="M1641.4,1735.9 C1643.6,1736.6 1646.0,1742.3 1645.7,1744.4 C1645.3,1746.5 1641.4,1749.4 1639.3,1748.7 C1637.2,1748.0 1632.6,1742.3 1632.9,1740.2Z" fill="none" stroke="#000" stroke-width="2.6" stroke-linejoin="round" stroke-linecap="round"/>
<path d="M1454.2,1761.4 C1457.1,1757.2 1458.5,1753.6 1458.5,1748.7 C1458.5,1743.7 1452.1,1735.9 1454.2,1731.7 C1456.4,1727.4 1464.9,1726.0 1471.2,1723.1 C1477.6,1720.3 1484.0,1716.1 1492.5,1714.6 C1501.0,1713.2 1520.2,1711.8 1522.3,1714.6 C1524.4,1717.5 1509.5,1727.4 1505.3,1731.7 C1501.0,1735.9 1499.6,1740.2 1496.8,1740.2 C1493.9,1740.2 1490.4,1730.9 1488.3,1731.7 C1486.1,1732.4 1485.4,1738.7 1484.0,1744.4 C1482.6,1750.1 1484.0,1760.7 1479.8,1765.7 C1475.5,1770.7 1464.9,1772.8 1458.5,1774.2 C1452.1,1775.6 1442.2,1776.3 1441.5,1774.2Z" fill="none" stroke="#000" stroke-width="2.6" stroke-linejoin="round" stroke-linecap="round"/>
<path d="M1303.2,1781.8 C1307.5,1780.8 1315.3,1781.2 1320.8,1780.7 C1326.3,1780.2 1332.5,1778.7 1336.3,1778.7 C1340.1,1778.7 1342.4,1779.2 1343.6,1780.7 C1344.8,1782.2 1344.8,1786.1 1343.6,1788.0 C1342.4,1789.9 1340.1,1791.6 1336.3,1792.1 C1332.5,1792.6 1325.3,1790.4 1320.8,1791.1 C1316.3,1791.8 1312.0,1795.6 1309.4,1796.3 C1306.8,1797.0 1307.7,1796.8 1305.3,1795.2 C1302.9,1793.7 1295.2,1789.2 1294.9,1787.0Z" fill="none" stroke="#000" stroke-width="2.6" stroke-linejoin="round" stroke-linecap="round"/>
<path d="M1688.2,1859.3 C1687.5,1862.8 1686.1,1873.5 1684.0,1880.6 C1681.8,1887.7 1676.9,1898.3 1675.5,1901.8" fill="none" stroke="#000" stroke-width="2.6" stroke-linejoin="round" stroke-linecap="round"/>
<path d="M1722.3,1867.8 C1724.4,1870.6 1732.9,1879.1 1735.0,1884.8 C1737.2,1890.5 1735.7,1895.5 1735.0,1901.8 C1734.3,1908.2 1731.5,1913.4 1730.8,1923.1 C1730.1,1932.8 1730.8,1954.0 1730.8,1960.1" fill="none" stroke="#000" stroke-width="2.6" stroke-linejoin="round" stroke-linecap="round"/>
<path d="M1726.5,1897.6 C1727.2,1899.4 1724.0,1903.6 1722.3,1904.0 C1720.5,1904.3 1716.6,1901.5 1715.9,1899.7 C1715.2,1897.9 1716.2,1893.7 1718.0,1893.3Z" fill="none" stroke="#000" stroke-width="2.6" stroke-linejoin="round" stroke-linecap="round"/>
<path d="M1247.9,1960.1 C1252.5,1958.2 1264.5,1951.3 1275.5,1948.6 C1286.5,1946.0 1302.5,1944.4 1313.8,1944.4 C1325.2,1944.4 1337.2,1946.0 1343.6,1948.6 C1350.0,1951.3 1350.7,1958.2 1352.1,1960.1" fill="none" stroke="#000" stroke-width="2.6" stroke-linejoin="round" stroke-linecap="round"/>
<path d="M1796.7,1699.7 C1799.9,1704.7 1808.4,1726.3 1807.4,1731.7 C1806.3,1737.0 1793.5,1736.6 1790.3,1731.7 C1787.2,1726.7 1787.2,1707.2 1788.2,1701.9Z" fill="none" stroke="#000" stroke-width="2.6" stroke-linejoin="round" stroke-linecap="round"/>
<path d="M1505.3,1960.1 C1506.7,1957.5 1510.2,1949.8 1513.8,1944.4 C1517.3,1938.9 1523.7,1933.0 1526.6,1927.4 C1529.4,1921.7 1531.5,1915.3 1530.8,1910.3 C1530.1,1905.4 1525.1,1901.8 1522.3,1897.6 C1519.5,1893.3 1516.6,1889.1 1513.8,1884.8 C1511.0,1880.6 1505.3,1877.7 1505.3,1872.1 C1505.3,1866.4 1506.7,1856.5 1513.8,1850.8 C1520.9,1845.1 1537.9,1842.3 1547.8,1838.0 C1557.8,1833.8 1566.3,1829.5 1573.4,1825.3 C1580.4,1821.0 1583.3,1814.6 1590.4,1812.5 C1597.5,1810.4 1608.8,1811.1 1615.9,1812.5 C1623.0,1813.9 1629.0,1817.5 1632.9,1821.0 C1636.8,1824.5 1640.7,1830.9 1639.3,1833.8 C1637.9,1836.6 1627.6,1833.8 1624.4,1838.0 C1621.2,1842.3 1620.2,1851.5 1620.2,1859.3 C1620.2,1867.1 1622.3,1877.7 1624.4,1884.8 C1626.5,1891.9 1628.7,1897.6 1632.9,1901.8 C1637.2,1906.1 1645.7,1906.8 1649.9,1910.3 C1654.2,1913.9 1654.2,1922.4 1658.4,1923.1 C1662.7,1923.8 1670.5,1918.1 1675.5,1914.6 C1680.4,1911.1 1686.8,1907.5 1688.2,1901.8 C1689.6,1896.2 1683.3,1886.9 1684.0,1880.6 C1684.7,1874.2 1687.5,1865.7 1692.5,1863.5 C1697.4,1861.4 1708.1,1864.3 1713.8,1867.8 C1719.4,1871.3 1723.0,1879.9 1726.5,1884.8 C1730.1,1889.8 1732.9,1891.2 1735.0,1897.6 C1737.2,1904.0 1737.2,1914.6 1739.3,1923.1 C1741.4,1931.6 1744.2,1942.5 1747.8,1948.6 C1751.3,1954.8 1758.4,1958.2 1760.6,1960.1" fill="none" stroke="#808080" stroke-width="2.4" stroke-linejoin="round" stroke-linecap="round"/>
<path d="M1930.7,1663.6 C1940.0,1658.6 1964.1,1651.5 1973.3,1646.6 C1982.5,1641.6 1984.6,1633.8 1986.1,1633.8 C1987.5,1633.8 1984.6,1643.0 1981.8,1646.6 C1979.0,1650.1 1976.1,1650.8 1969.0,1655.1 C1961.9,1659.3 1947.1,1668.2 1939.3,1672.1 C1931.5,1676.0 1925.8,1677.8 1922.2,1678.5 C1918.7,1679.2 1916.6,1678.8 1918.0,1676.3Z" fill="none" stroke="#808080" stroke-width="2.4" stroke-linejoin="round" stroke-linecap="round"/>
<path d="M1247.9,1578.5 C1251.8,1580.6 1265.2,1587.7 1271.3,1591.2 C1277.3,1594.8 1279.1,1596.9 1284.0,1599.8 C1289.0,1602.6 1300.3,1606.1 1301.1,1608.3 C1301.8,1610.4 1293.3,1613.2 1288.3,1612.5 C1283.3,1611.8 1278.0,1608.3 1271.3,1604.0 C1264.5,1599.8 1251.8,1589.8 1247.9,1587.0" fill="none" stroke="#808080" stroke-width="2.4" stroke-linejoin="round" stroke-linecap="round"/>
<path d="M1871.2,1538.1 C1873.0,1541.6 1870.5,1561.1 1869.1,1565.7 C1867.6,1570.3 1864.4,1569.3 1862.7,1565.7 C1860.9,1562.2 1857.0,1549.1 1858.4,1544.4Z" fill="none" stroke="#808080" stroke-width="2.4" stroke-linejoin="round" stroke-linecap="round"/>
<path d="M1369.1,1808.2 C1370.5,1811.1 1377.6,1819.6 1377.6,1825.3 C1377.6,1830.9 1369.1,1837.3 1369.1,1842.3 C1369.1,1847.2 1374.8,1855.7 1377.6,1855.0 C1380.5,1854.3 1383.3,1845.8 1386.1,1838.0 C1389.0,1830.2 1393.2,1813.2 1394.7,1808.2" fill="none" stroke="#808080" stroke-width="2.4" stroke-linejoin="round" stroke-linecap="round"/>
<path d="M1411.7,1544.4 C1413.1,1545.9 1417.3,1550.1 1420.2,1553.0 C1423.0,1555.8 1427.3,1557.9 1428.7,1561.5 C1430.1,1565.0 1428.7,1572.1 1428.7,1574.2" fill="none" stroke="#808080" stroke-width="2.4" stroke-linejoin="round" stroke-linecap="round"/>
<path d="M1287.7,715.0 C1289.0,710.3 1295.3,695.9 1295.9,686.7 C1296.6,677.5 1291.8,668.0 1291.8,659.8 C1291.8,651.5 1293.9,641.1 1295.9,637.0 C1298.0,632.8 1299.4,637.0 1304.2,634.9 C1309.1,632.8 1323.2,627.7 1324.9,624.6 C1326.7,621.5 1314.6,617.7 1314.6,616.3 C1314.6,614.9 1321.1,617.7 1324.9,616.3 C1328.7,614.9 1334.9,611.8 1337.3,608.0 C1339.8,604.2 1338.7,598.7 1339.4,593.5 C1340.1,588.3 1339.8,581.4 1341.5,576.9 C1343.2,572.5 1346.7,568.0 1349.8,566.6 C1352.9,565.2 1356.7,566.6 1360.1,568.7 C1363.6,570.7 1367.4,578.3 1370.5,579.0 C1373.6,579.7 1376.2,576.9 1378.8,572.8 C1381.3,568.7 1385.3,559.3 1386.0,554.2 C1386.7,549.0 1385.1,544.8 1382.9,541.7 C1380.7,538.6 1378.1,536.9 1372.5,535.5 C1367.0,534.2 1354.3,535.9 1349.8,533.5 C1345.3,531.0 1346.7,527.9 1345.6,521.0 C1344.6,514.1 1342.5,501.7 1343.6,492.1 C1344.6,482.4 1349.1,470.0 1351.8,463.1 C1354.6,456.2 1359.1,456.9 1360.1,450.6 C1361.2,444.4 1359.4,432.7 1358.1,425.8 C1356.7,418.9 1352.5,413.4 1351.8,409.2 C1351.2,405.1 1351.8,404.1 1353.9,401.0 C1356.0,397.9 1365.6,390.6 1364.3,390.6 C1362.9,390.6 1352.9,398.0 1345.6,401.0 C1338.4,403.9 1327.3,404.1 1320.8,408.2 C1314.2,412.3 1311.1,419.1 1306.3,425.8 C1301.5,432.5 1296.3,443.1 1291.8,448.6 C1287.3,454.1 1284.9,457.2 1279.4,458.9 C1273.9,460.7 1266.6,458.2 1258.7,458.9 C1250.7,459.6 1239.7,457.9 1231.8,463.1 C1223.8,468.2 1215.5,482.0 1211.1,490.0 C1206.6,497.9 1206.6,503.8 1204.8,510.7 C1203.1,517.6 1201.6,524.5 1200.7,531.4 C1199.8,538.3 1199.7,540.0 1199.7,552.1 C1199.7,564.2 1201.2,590.1 1200.7,603.9 C1200.2,617.7 1197.6,627.3 1196.6,634.9 C1195.5,642.5 1192.4,644.9 1194.5,649.4 C1196.6,653.9 1205.2,658.0 1209.0,661.8 C1212.8,665.6 1215.2,669.1 1217.3,672.2 C1219.3,675.3 1219.0,678.0 1221.4,680.5 C1223.8,682.9 1229.7,680.9 1231.8,686.7 C1233.8,692.4 1233.5,710.3 1233.8,715.0" fill="none" stroke="#808080" stroke-width="2.4" stroke-linejoin="round" stroke-linecap="round"/>
<path d="M1260.7,465.1 C1262.1,467.2 1266.6,475.1 1269.0,477.6 C1271.4,480.0 1270.8,479.6 1275.2,479.6 C1279.7,479.6 1289.7,478.9 1295.9,477.6 C1302.2,476.2 1308.7,471.7 1312.5,471.3 C1316.3,471.0 1320.1,473.4 1318.7,475.5 C1317.3,477.6 1308.7,482.0 1304.2,483.8 C1299.7,485.5 1296.3,485.8 1291.8,485.8 C1287.3,485.8 1281.4,482.4 1277.3,483.8 C1273.2,485.2 1270.1,491.4 1267.0,494.1 C1263.9,496.9 1261.8,500.0 1258.7,500.3 C1255.6,500.7 1251.1,494.5 1248.3,496.2 C1245.6,497.9 1244.2,506.5 1242.1,510.7 C1240.0,514.8 1236.2,517.2 1235.9,521.0 C1235.6,524.8 1240.7,531.4 1240.0,533.5 C1239.4,535.5 1233.8,535.5 1231.8,533.5 C1229.7,531.4 1228.7,525.9 1227.6,521.0 C1226.6,516.2 1224.5,509.3 1225.5,504.5 C1226.6,499.6 1230.4,495.5 1233.8,492.1 C1237.3,488.6 1244.2,485.2 1246.3,483.8" fill="none" stroke="#808080" stroke-width="2.4" stroke-linejoin="round" stroke-linecap="round"/>
<path d="M1478.1,581.1 C1486.4,579.0 1492.6,584.9 1496.8,589.4 C1500.9,593.8 1500.6,600.1 1503.0,608.0 C1505.4,615.9 1508.8,630.1 1511.3,637.0 C1513.7,643.9 1514.7,646.3 1517.5,649.4 C1520.2,652.5 1525.4,652.9 1527.8,655.6 C1530.2,658.4 1532.7,661.5 1532.0,666.0 C1531.3,670.5 1527.1,678.4 1523.7,682.5 C1520.2,686.7 1515.4,691.2 1511.3,690.8 C1507.1,690.5 1502.3,683.9 1498.8,680.5 C1495.4,677.0 1494.7,674.2 1490.6,670.1 C1486.4,666.0 1476.4,659.8 1474.0,655.6 C1471.6,651.5 1474.0,648.4 1476.1,645.3 C1478.1,642.2 1483.0,639.7 1486.4,637.0 C1489.9,634.2 1497.1,630.8 1496.8,628.7 C1496.4,626.6 1488.8,625.9 1484.3,624.6 C1479.9,623.2 1474.7,623.2 1469.9,620.4 C1465.0,617.7 1459.2,611.1 1455.4,608.0 C1451.6,604.9 1443.3,606.3 1447.1,601.8Z" fill="none" stroke="#808080" stroke-width="2.4" stroke-linejoin="round" stroke-linecap="round"/>
<path d="M1440.9,313.0 C1440.2,318.3 1437.8,334.5 1436.7,345.1 C1435.7,355.6 1432.9,367.5 1434.7,376.1 C1436.4,384.7 1444.0,387.8 1447.1,396.8 C1450.2,405.8 1450.2,421.3 1453.3,429.9 C1456.4,438.6 1462.3,441.0 1465.7,448.6 C1469.2,456.2 1471.6,468.9 1474.0,475.5 C1476.4,482.0 1476.4,483.8 1480.2,487.9 C1484.0,492.1 1491.6,495.2 1496.8,500.3 C1501.9,505.5 1507.5,513.8 1511.3,519.0 C1515.1,524.1 1518.9,527.9 1519.5,531.4 C1520.2,534.8 1518.9,537.6 1515.4,539.7 C1512.0,541.7 1502.3,541.7 1498.8,543.8 C1495.4,545.9 1492.6,549.0 1494.7,552.1 C1496.8,555.2 1508.2,558.0 1511.3,562.4 C1514.4,566.9 1511.6,574.5 1513.3,579.0 C1515.1,583.5 1518.9,585.9 1521.6,589.4 C1524.4,592.8 1529.6,595.6 1529.9,599.7 C1530.2,603.9 1523.3,607.3 1523.7,614.2 C1524.0,621.1 1532.7,634.2 1532.0,641.1 C1531.3,648.0 1516.8,652.9 1519.5,655.6 C1522.3,658.4 1538.3,658.7 1548.5,657.7 C1558.8,656.7 1575.6,650.8 1581.0,649.4" fill="none" stroke="#808080" stroke-width="2.4" stroke-linejoin="round" stroke-linecap="round"/>
<path d="M1409.8,313.0 C1410.5,317.3 1411.5,331.8 1414.0,338.8 C1416.4,345.9 1421.9,349.2 1424.3,355.4 C1426.7,361.6 1426.4,369.2 1428.4,376.1 C1430.5,383.0 1435.3,393.4 1436.7,396.8" fill="none" stroke="#808080" stroke-width="2.4" stroke-linejoin="round" stroke-linecap="round"/>
<path d="M1401.5,440.3 C1405.0,440.6 1401.9,445.8 1399.5,448.6 C1397.0,451.3 1390.5,457.2 1387.0,456.9 C1383.6,456.5 1376.3,449.3 1378.8,446.5Z" fill="none" stroke="#808080" stroke-width="2.4" stroke-linejoin="round" stroke-linecap="round"/>
<path d="M1211.1,562.4 C1211.4,565.6 1204.5,569.0 1202.8,566.6 C1201.0,564.2 1199.3,548.6 1200.7,548.0Z" fill="none" stroke="#808080" stroke-width="2.4" stroke-linejoin="round" stroke-linecap="round"/>
<path d="M1215.2,612.1 C1215.9,617.7 1207.3,624.6 1204.8,620.4 C1202.4,616.3 1199.0,588.7 1200.7,587.3Z" fill="none" stroke="#808080" stroke-width="2.4" stroke-linejoin="round" stroke-linecap="round"/>
<path d="M1289.7,659.8 C1293.5,658.7 1304.6,655.3 1312.5,653.5 C1320.4,651.8 1331.1,652.2 1337.3,649.4 C1343.6,646.6 1346.0,641.1 1349.8,637.0 C1353.6,632.8 1358.1,630.1 1360.1,624.6 C1362.2,619.0 1361.2,605.6 1362.2,603.9 C1363.2,602.1 1366.3,610.1 1366.3,614.2 C1366.3,618.3 1362.9,626.3 1362.2,628.7" fill="none" stroke="#808080" stroke-width="2.4" stroke-linejoin="round" stroke-linecap="round"/>
<path d="M1291.8,692.9 C1296.6,691.8 1313.5,686.0 1320.8,686.7 C1328.0,687.4 1330.4,695.0 1335.3,697.0 C1340.1,699.1 1344.6,700.1 1349.8,699.1 C1354.9,698.1 1362.2,695.0 1366.3,690.8 C1370.5,686.7 1371.2,674.9 1374.6,674.2 C1378.1,673.6 1382.2,683.9 1387.0,686.7 C1391.9,689.4 1398.4,688.7 1403.6,690.8 C1408.8,692.9 1414.0,695.1 1418.1,699.1 C1422.2,703.1 1426.7,712.4 1428.4,715.0" fill="none" stroke="#808080" stroke-width="2.4" stroke-linejoin="round" stroke-linecap="round"/>
<path d="M1469.9,670.1 C1470.5,674.2 1470.5,688.7 1474.0,695.0 C1477.4,701.2 1487.8,704.0 1490.6,707.4 C1493.3,710.7 1490.6,713.8 1490.6,715.0" fill="none" stroke="#808080" stroke-width="2.4" stroke-linejoin="round" stroke-linecap="round"/>
<path d="M1569.2,467.2 C1571.3,468.6 1573.4,471.3 1573.4,475.5 C1573.4,479.6 1571.3,487.9 1569.2,492.1 C1567.2,496.2 1562.7,501.7 1561.0,500.3 C1559.2,499.0 1558.9,489.3 1558.9,483.8 C1558.9,478.3 1559.2,470.0 1561.0,467.2Z" fill="none" stroke="#808080" stroke-width="2.4" stroke-linejoin="round" stroke-linecap="round"/>
<path d="M1089.0,316.0 C1090.8,317.0 1096.2,319.2 1100.0,322.0 C1103.8,324.8 1111.1,330.3 1111.8,332.6 C1112.5,334.9 1104.7,334.6 1104.0,336.0 C1103.3,337.4 1105.0,339.3 1107.7,341.0 C1110.4,342.7 1117.0,344.2 1120.0,346.0 C1123.0,347.8 1123.6,350.4 1126.0,352.0 C1128.4,353.6 1131.4,355.1 1134.6,355.4 C1137.8,355.7 1142.1,353.6 1145.0,354.0 C1147.9,354.4 1149.5,357.5 1152.0,358.0 C1154.5,358.5 1157.0,356.8 1160.0,357.0 C1163.0,357.2 1166.8,359.7 1169.8,359.5 C1172.8,359.3 1175.3,357.2 1178.0,356.0 C1180.7,354.8 1183.7,353.7 1186.0,352.0 C1188.3,350.3 1189.9,347.5 1192.0,346.0 C1194.1,344.5 1196.6,344.3 1198.8,343.0 C1201.0,341.7 1202.8,339.0 1205.0,338.0 C1207.2,337.0 1209.6,337.9 1212.0,337.0 C1214.4,336.1 1217.2,334.4 1219.5,332.6 C1221.8,330.8 1223.6,327.8 1226.0,326.0 C1228.4,324.2 1231.6,323.7 1234.0,322.0 C1236.4,320.3 1239.2,317.0 1240.2,316.0" fill="none" stroke="#808080" stroke-width="3.6" stroke-linejoin="round" stroke-linecap="round"/>
<path d="M1111.0,333.0 C1112.8,330.8 1118.7,322.5 1122.0,320.0 C1125.3,317.5 1129.5,318.3 1131.0,318.0" fill="none" stroke="#808080" stroke-width="2.4" stroke-linejoin="round" stroke-linecap="round"/>
<g transform="translate(930,1000) rotate(-36.4)"><rect x="-55.5" y="-25.0" width="111" height="50" fill="#fff"/><text x="0" y="16.2" font-size="45" text-anchor="middle" fill="#000">1008</text></g>
<g transform="translate(1426,594) rotate(-48.9)"><rect x="-55.0" y="-26.5" width="110" height="53" fill="#fff"/><text x="0" y="16.2" font-size="45" text-anchor="middle" fill="#000">1008</text></g>
<g transform="translate(1012.5,1468.5) rotate(2)"><rect x="-56.5" y="-26.5" width="113" height="53" fill="#fff"/><text x="0" y="16.2" font-size="45" text-anchor="middle" fill="#000">1016</text></g>
<g transform="translate(1470,1311) rotate(-13)"><rect x="-52.5" y="-25.0" width="105" height="50" fill="#fff"/><text x="0" y="16.2" font-size="45" text-anchor="middle" fill="#000">1016</text></g>
<g transform="translate(1905,1733) rotate(15)"><text x="0" y="17.3" font-size="48" text-anchor="middle" fill="#000">1016</text></g>
<rect x="1050" y="1531" width="108" height="60.5" fill="#fff"/>
<text transform="translate(1055.5,1571.9) scale(0.89,1)" x="0" y="0" font-size="49" fill="#000">H</text>
<text transform="translate(1088.5,1581.3) scale(0.99,1)" x="0" y="0" font-size="27" fill="#000">1018</text>
<rect x="865" y="1750" width="101" height="60.5" fill="#fff"/>
<text transform="translate(870,1790.9) scale(0.89,1)" x="0" y="0" font-size="49" fill="#000">L</text>
<text transform="translate(896.5,1800.3) scale(0.99,1)" x="0" y="0" font-size="27" fill="#000">1019</text>
<rect x="1119" y="1720" width="108" height="60.5" fill="#fff"/>
<text transform="translate(1124.5,1760.9) scale(0.89,1)" x="0" y="0" font-size="49" fill="#000">H</text>
<text transform="translate(1157.5,1770.3) scale(0.99,1)" x="0" y="0" font-size="27" fill="#000">1020</text>
<rect x="1041" y="1773" width="108" height="60.5" fill="#fff"/>
<text transform="translate(1046.5,1813.9) scale(0.89,1)" x="0" y="0" font-size="49" fill="#000">H</text>
<text transform="translate(1079.5,1823.3) scale(0.99,1)" x="0" y="0" font-size="27" fill="#000">1021</text>
<rect x="870" y="1830" width="101" height="60.5" fill="#fff"/>
<text transform="translate(875,1870.9) scale(0.89,1)" x="0" y="0" font-size="49" fill="#000">L</text>
<text transform="translate(901.5,1880.3) scale(0.99,1)" x="0" y="0" font-size="27" fill="#000">1019</text>
<rect x="1126" y="1864" width="101" height="60.5" fill="#fff"/>
<text transform="translate(1131,1904.9) scale(0.89,1)" x="0" y="0" font-size="49" fill="#000">L</text>
<text transform="translate(1157.5,1914.3) scale(0.99,1)" x="0" y="0" font-size="27" fill="#000">1015</text>
<rect x="668" y="1919" width="108" height="60.5" fill="#fff"/>
<text transform="translate(673.5,1959.9) scale(0.89,1)" x="0" y="0" font-size="49" fill="#000">H</text>
<text transform="translate(706.5,1969.3) scale(0.99,1)" x="0" y="0" font-size="27" fill="#000">1022</text>
<rect x="1433" y="1559" width="108" height="60.5" fill="#fff"/>
<text transform="translate(1438.5,1599.9) scale(0.89,1)" x="0" y="0" font-size="49" fill="#000">H</text>
<text transform="translate(1471.5,1609.3) scale(0.99,1)" x="0" y="0" font-size="27" fill="#000">1019</text>
<rect x="1307" y="1617" width="108" height="60.5" fill="#fff"/>
<text transform="translate(1312.5,1657.9) scale(0.89,1)" x="0" y="0" font-size="49" fill="#000">H</text>
<text transform="translate(1345.5,1667.3) scale(0.99,1)" x="0" y="0" font-size="27" fill="#000">1019</text>
<rect x="1671" y="1598" width="108" height="60.5" fill="#fff"/>
<text transform="translate(1676.5,1638.9) scale(0.89,1)" x="0" y="0" font-size="49" fill="#000">H</text>
<text transform="translate(1709.5,1648.3) scale(0.99,1)" x="0" y="0" font-size="27" fill="#000">1018</text>
<rect x="1301" y="1838" width="101" height="60.5" fill="#fff"/>
<text transform="translate(1306,1878.9) scale(0.89,1)" x="0" y="0" font-size="49" fill="#000">L</text>
<text transform="translate(1332.5,1888.3) scale(0.99,1)" x="0" y="0" font-size="27" fill="#000">1015</text>
<rect x="1680" y="1812" width="108" height="60.5" fill="#fff"/>
<text transform="translate(1685.5,1852.9) scale(0.89,1)" x="0" y="0" font-size="49" fill="#000">H</text>
<text transform="translate(1718.5,1862.3) scale(0.99,1)" x="0" y="0" font-size="27" fill="#000">1017</text>
<rect x="1990" y="1564" width="101" height="60.5" fill="#fff"/>
<text transform="translate(1995,1604.9) scale(0.89,1)" x="0" y="0" font-size="49" fill="#000">L</text>
<text transform="translate(2021.5,1614.3) scale(0.99,1)" x="0" y="0" font-size="27" fill="#000">1015</text></g>
<rect x="428" y="314" width="1644" height="1644" fill="none" stroke="#444" stroke-width="1.5"/>
<text x="258" y="120" font-size="97" text-anchor="start" textLength="1983" lengthAdjust="spacingAndGlyphs">Thunderstorm probability (Sep 12 2025 00UTC)</text>
<line x1="688" y1="276" x2="688" y2="314" stroke="#333" stroke-width="1.3"/>
<text transform="translate(688,237.5) scale(0.955,1)" x="0" y="0" font-size="55.5" text-anchor="middle">0°</text>
<line x1="1007" y1="276" x2="1007" y2="314" stroke="#333" stroke-width="1.3"/>
<text transform="translate(1007,237.5) scale(0.955,1)" x="0" y="0" font-size="55.5" text-anchor="middle">5°E</text>
<line x1="1322.5" y1="276" x2="1322.5" y2="314" stroke="#333" stroke-width="1.3"/>
<text transform="translate(1322.5,237.5) scale(0.955,1)" x="0" y="0" font-size="55.5" text-anchor="middle">10°E</text>
<line x1="1641" y1="276" x2="1641" y2="314" stroke="#333" stroke-width="1.3"/>
<text transform="translate(1641,237.5) scale(0.955,1)" x="0" y="0" font-size="55.5" text-anchor="middle">15°E</text>
<line x1="1961" y1="276" x2="1961" y2="314" stroke="#333" stroke-width="1.3"/>
<text transform="translate(1961,237.5) scale(0.955,1)" x="0" y="0" font-size="55.5" text-anchor="middle">20°E</text>
<line x1="389" y1="516" x2="428" y2="516" stroke="#333" stroke-width="1.3"/>
<text transform="translate(354,535.8) scale(0.955,1)" x="0" y="0" font-size="55.5" text-anchor="end">56°N</text>
<line x1="389" y1="761" x2="428" y2="761" stroke="#333" stroke-width="1.3"/>
<text transform="translate(354,780.8) scale(0.955,1)" x="0" y="0" font-size="55.5" text-anchor="end">54°N</text>
<line x1="389" y1="1003" x2="428" y2="1003" stroke="#333" stroke-width="1.3"/>
<text transform="translate(354,1022.8) scale(0.955,1)" x="0" y="0" font-size="55.5" text-anchor="end">52°N</text>
<line x1="389" y1="1245.5" x2="428" y2="1245.5" stroke="#333" stroke-width="1.3"/>
<text transform="translate(354,1265.3) scale(0.955,1)" x="0" y="0" font-size="55.5" text-anchor="end">50°N</text>
<line x1="389" y1="1486" x2="428" y2="1486" stroke="#333" stroke-width="1.3"/>
<text transform="translate(354,1505.8) scale(0.955,1)" x="0" y="0" font-size="55.5" text-anchor="end">48°N</text>
<line x1="389" y1="1728" x2="428" y2="1728" stroke="#333" stroke-width="1.3"/>
<text transform="translate(354,1747.8) scale(0.955,1)" x="0" y="0" font-size="55.5" text-anchor="end">46°N</text>
<line x1="2072" y1="541" x2="2110" y2="541" stroke="#333" stroke-width="1.3"/>
<text transform="translate(2146,560.8) scale(0.955,1)" x="0" y="0" font-size="55.5" text-anchor="start">56°N</text>
<line x1="2072" y1="784" x2="2110" y2="784" stroke="#333" stroke-width="1.3"/>
<text transform="translate(2146,803.8) scale(0.955,1)" x="0" y="0" font-size="55.5" text-anchor="start">54°N</text>
<line x1="2072" y1="1026" x2="2110" y2="1026" stroke="#333" stroke-width="1.3"/>
<text transform="translate(2146,1045.8) scale(0.955,1)" x="0" y="0" font-size="55.5" text-anchor="start">52°N</text>
<line x1="2072" y1="1265.5" x2="2110" y2="1265.5" stroke="#333" stroke-width="1.3"/>
<text transform="translate(2146,1285.3) scale(0.955,1)" x="0" y="0" font-size="55.5" text-anchor="start">50°N</text>
<line x1="2072" y1="1507" x2="2110" y2="1507" stroke="#333" stroke-width="1.3"/>
<text transform="translate(2146,1526.8) scale(0.955,1)" x="0" y="0" font-size="55.5" text-anchor="start">48°N</text>
<line x1="2072" y1="1748" x2="2110" y2="1748" stroke="#333" stroke-width="1.3"/>
<text transform="translate(2146,1767.8) scale(0.955,1)" x="0" y="0" font-size="55.5" text-anchor="start">46°N</text>
<line x1="465.0" y1="1958" x2="465.0" y2="1997" stroke="#333" stroke-width="1.3"/>
<text transform="translate(465.0,2075.5) scale(0.955,1)" x="0" y="0" font-size="55.5" text-anchor="middle">0°</text>
<line x1="636.7" y1="1958" x2="636.7" y2="1997" stroke="#333" stroke-width="1.3"/>
<text transform="translate(636.7,2075.5) scale(0.955,1)" x="0" y="0" font-size="55.5" text-anchor="middle">2°E</text>
<line x1="808.4" y1="1958" x2="808.4" y2="1997" stroke="#333" stroke-width="1.3"/>
<text transform="translate(808.4,2075.5) scale(0.955,1)" x="0" y="0" font-size="55.5" text-anchor="middle">4°E</text>
<line x1="980.1" y1="1958" x2="980.1" y2="1997" stroke="#333" stroke-width="1.3"/>
<text transform="translate(980.1,2075.5) scale(0.955,1)" x="0" y="0" font-size="55.5" text-anchor="middle">6°E</text>
<line x1="1151.8" y1="1958" x2="1151.8" y2="1997" stroke="#333" stroke-width="1.3"/>
<text transform="translate(1151.8,2075.5) scale(0.955,1)" x="0" y="0" font-size="55.5" text-anchor="middle">8°E</text>
<line x1="1323.5" y1="1958" x2="1323.5" y2="1997" stroke="#333" stroke-width="1.3"/>
<text transform="translate(1323.5,2075.5) scale(0.955,1)" x="0" y="0" font-size="55.5" text-anchor="middle">10°E</text>
<line x1="1495.2" y1="1958" x2="1495.2" y2="1997" stroke="#333" stroke-width="1.3"/>
<text transform="translate(1495.2,2075.5) scale(0.955,1)" x="0" y="0" font-size="55.5" text-anchor="middle">12°E</text>
<line x1="1666.9" y1="1958" x2="1666.9" y2="1997" stroke="#333" stroke-width="1.3"/>
<text transform="translate(1666.9,2075.5) scale(0.955,1)" x="0" y="0" font-size="55.5" text-anchor="middle">14°E</text>
<line x1="1838.6" y1="1958" x2="1838.6" y2="1997" stroke="#333" stroke-width="1.3"/>
<text transform="translate(1838.6,2075.5) scale(0.955,1)" x="0" y="0" font-size="55.5" text-anchor="middle">16°E</text>
<line x1="2010.3" y1="1958" x2="2010.3" y2="1997" stroke="#333" stroke-width="1.3"/>
<text transform="translate(2010.3,2075.5) scale(0.955,1)" x="0" y="0" font-size="55.5" text-anchor="middle">18°E</text>
<rect x="1211.5" y="2108.5" width="860.5" height="64.5" fill="#fff" stroke="#888" stroke-width="1.1"/>
<text x="1220" y="2153" font-size="46" text-anchor="start" textLength="840" lengthAdjust="spacingAndGlyphs">pressure (hPa) from 996 to 1022 by 2 hPa</text>
<text x="575" y="2259.5" font-size="59.5" text-anchor="start" textLength="1349" lengthAdjust="spacingAndGlyphs">Convective available potential energy [CAPE] in (J/kg)</text>
<rect x="370" y="2295" width="160" height="64.5" fill="#ffffff" stroke="#555" stroke-width="1.0"/>
<rect x="530" y="2295" width="160" height="64.5" fill="#00ff00" stroke="#555" stroke-width="1.0"/>
<rect x="690" y="2295" width="160" height="64.5" fill="#008200" stroke="#555" stroke-width="1.0"/>
<rect x="850" y="2295" width="160" height="64.5" fill="#f0e68c" stroke="#555" stroke-width="1.0"/>
<rect x="1010" y="2295" width="160" height="64.5" fill="#ffff00" stroke="#555" stroke-width="1.0"/>
<rect x="1170" y="2295" width="160" height="64.5" fill="#ff8c00" stroke="#555" stroke-width="1.0"/>
<rect x="1330" y="2295" width="160" height="64.5" fill="#ff0000" stroke="#555" stroke-width="1.0"/>
<rect x="1490" y="2295" width="160" height="64.5" fill="#8b0000" stroke="#555" stroke-width="1.0"/>
<rect x="1650" y="2295" width="160" height="64.5" fill="#ba55d3" stroke="#555" stroke-width="1.0"/>
<rect x="1810" y="2295" width="160" height="64.5" fill="#9932cc" stroke="#555" stroke-width="1.0"/>
<rect x="1970" y="2295" width="160" height="64.5" fill="#8b008b" stroke="#555" stroke-width="1.0"/>
<text transform="translate(530,2419.5) scale(0.955,1)" x="0" y="0" font-size="55.5" text-anchor="middle">.1</text>
<text transform="translate(690,2419.5) scale(0.955,1)" x="0" y="0" font-size="55.5" text-anchor="middle">500</text>
<text transform="translate(850,2419.5) scale(0.955,1)" x="0" y="0" font-size="55.5" text-anchor="middle">1000</text>
<text transform="translate(1010,2419.5) scale(0.955,1)" x="0" y="0" font-size="55.5" text-anchor="middle">1500</text>
<text transform="translate(1170,2419.5) scale(0.955,1)" x="0" y="0" font-size="55.5" text-anchor="middle">2000</text>
<text transform="translate(1330,2419.5) scale(0.955,1)" x="0" y="0" font-size="55.5" text-anchor="middle">2500</text>
<text transform="translate(1490,2419.5) scale(0.955,1)" x="0" y="0" font-size="55.5" text-anchor="middle">3000</text>
<text transform="translate(1650,2419.5) scale(0.955,1)" x="0" y="0" font-size="55.5" text-anchor="middle">3500</text>
<text transform="translate(1810,2419.5) scale(0.955,1)" x="0" y="0" font-size="55.5" text-anchor="middle">4000</text>
<text transform="translate(1970,2419.5) scale(0.955,1)" x="0" y="0" font-size="55.5" text-anchor="middle">4500</text>
</svg></body></html>
